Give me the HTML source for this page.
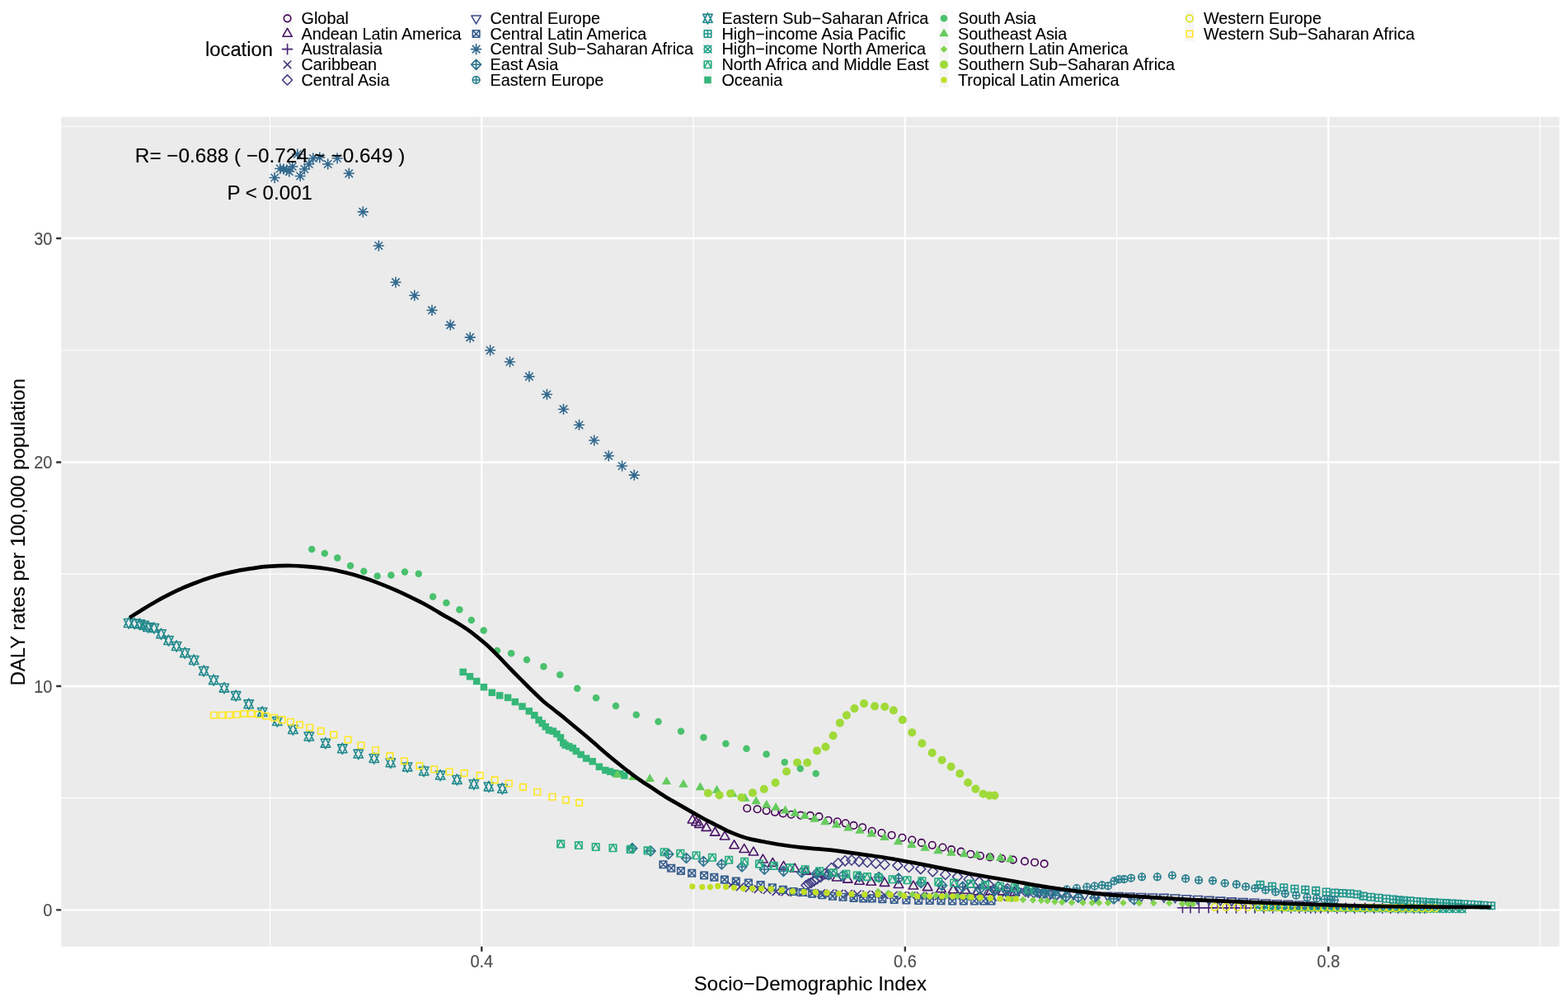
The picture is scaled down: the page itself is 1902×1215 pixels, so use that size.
<!DOCTYPE html>
<html lang="en">
<head>
<meta charset="utf-8">
<title>DALY rates per 100,000 population vs Socio-Demographic Index</title>
<style>
html,body{margin:0;padding:0;background:#fff;}
body{width:1902px;height:1215px;overflow:hidden;font-family:"Liberation Sans",Arial,Helvetica,sans-serif;}
svg{display:block;}
svg text{font-family:"Liberation Sans",Arial,Helvetica,sans-serif;}
.tick{font-size:20px;fill:#4D4D4D;stroke:#4D4D4D;stroke-width:0.12px;}
.lab{font-size:19.85px;fill:#000;stroke:#000;stroke-width:0.12px;}
.ttl{font-size:24px;fill:#000;stroke:#000;stroke-width:0.12px;}
</style>
</head>
<body>
<svg width="1902" height="1215" viewBox="0 0 1902 1215">
<rect x="0" y="0" width="1902" height="1215" fill="#FFFFFF"/>
<g id="panel">
<rect x="74.2" y="141.8" width="1817.3" height="1006" fill="#EBEBEB"/>
<path d="M327.52 141.8V1147.8M841.07 141.8V1147.8M1354.62 141.8V1147.8M1868.17 141.8V1147.8M74.2 967.67H1891.5M74.2 696.2H1891.5M74.2 424.73H1891.5M74.2 153.25H1891.5" stroke="#FFFFFF" stroke-width="1.2" fill="none"/>
<path d="M584.3 141.8V1147.8M1097.85 141.8V1147.8M1611.4 141.8V1147.8M74.2 1103.4H1891.5M74.2 831.93H1891.5M74.2 560.46H1891.5M74.2 288.99H1891.5" stroke="#FFFFFF" stroke-width="2.4" fill="none"/>
</g>
<g id="points" stroke-linecap="round" stroke-linejoin="round">
<g id="s1"><circle cx="906.2" cy="980.2" r="4.26" fill="none" stroke="#440154" stroke-width="1.6"/><circle cx="918.6" cy="981.2" r="4.26" fill="none" stroke="#440154" stroke-width="1.6"/><circle cx="929.6" cy="983.1" r="4.26" fill="none" stroke="#440154" stroke-width="1.6"/><circle cx="940" cy="984.8" r="4.26" fill="none" stroke="#440154" stroke-width="1.6"/><circle cx="949.8" cy="986.4" r="4.26" fill="none" stroke="#440154" stroke-width="1.6"/><circle cx="959.7" cy="987.7" r="4.26" fill="none" stroke="#440154" stroke-width="1.6"/><circle cx="971.2" cy="988.6" r="4.26" fill="none" stroke="#440154" stroke-width="1.6"/><circle cx="982.8" cy="988.9" r="4.26" fill="none" stroke="#440154" stroke-width="1.6"/><circle cx="993.5" cy="990.1" r="4.26" fill="none" stroke="#440154" stroke-width="1.6"/><circle cx="1004.7" cy="994.7" r="4.26" fill="none" stroke="#440154" stroke-width="1.6"/><circle cx="1015.7" cy="996.3" r="4.26" fill="none" stroke="#440154" stroke-width="1.6"/><circle cx="1025.6" cy="998.3" r="4.26" fill="none" stroke="#440154" stroke-width="1.6"/><circle cx="1035.5" cy="1000.9" r="4.26" fill="none" stroke="#440154" stroke-width="1.6"/><circle cx="1046.2" cy="1003.2" r="4.26" fill="none" stroke="#440154" stroke-width="1.6"/><circle cx="1057.7" cy="1007.8" r="4.26" fill="none" stroke="#440154" stroke-width="1.6"/><circle cx="1069.4" cy="1010" r="4.26" fill="none" stroke="#440154" stroke-width="1.6"/><circle cx="1081.6" cy="1012.7" r="4.26" fill="none" stroke="#440154" stroke-width="1.6"/><circle cx="1094.4" cy="1015.7" r="4.26" fill="none" stroke="#440154" stroke-width="1.6"/><circle cx="1106.3" cy="1018.5" r="4.26" fill="none" stroke="#440154" stroke-width="1.6"/><circle cx="1117.8" cy="1021.9" r="4.26" fill="none" stroke="#440154" stroke-width="1.6"/><circle cx="1130.8" cy="1024.8" r="4.26" fill="none" stroke="#440154" stroke-width="1.6"/><circle cx="1143.5" cy="1027.5" r="4.26" fill="none" stroke="#440154" stroke-width="1.6"/><circle cx="1154.1" cy="1030.1" r="4.26" fill="none" stroke="#440154" stroke-width="1.6"/><circle cx="1165.7" cy="1032.6" r="4.26" fill="none" stroke="#440154" stroke-width="1.6"/><circle cx="1177.4" cy="1035.7" r="4.26" fill="none" stroke="#440154" stroke-width="1.6"/><circle cx="1189" cy="1037.8" r="4.26" fill="none" stroke="#440154" stroke-width="1.6"/><circle cx="1200.9" cy="1039.4" r="4.26" fill="none" stroke="#440154" stroke-width="1.6"/><circle cx="1215.1" cy="1041" r="4.26" fill="none" stroke="#440154" stroke-width="1.6"/><circle cx="1228.8" cy="1042.6" r="4.26" fill="none" stroke="#440154" stroke-width="1.6"/><circle cx="1243" cy="1044.4" r="4.26" fill="none" stroke="#440154" stroke-width="1.6"/><circle cx="1255.1" cy="1045.7" r="4.26" fill="none" stroke="#440154" stroke-width="1.6"/><circle cx="1266.7" cy="1047.4" r="4.26" fill="none" stroke="#440154" stroke-width="1.6"/></g>
<g id="s2"><path d="M840 988.04L845.73 997.97L834.27 997.97Z" fill="none" stroke="#471365" stroke-width="1.6"/><path d="M844.5 990.84L850.23 1000.77L838.77 1000.77Z" fill="none" stroke="#471365" stroke-width="1.6"/><path d="M848.3 993.44L854.03 1003.37L842.57 1003.37Z" fill="none" stroke="#471365" stroke-width="1.6"/><path d="M856.8 997.44L862.53 1007.37L851.07 1007.37Z" fill="none" stroke="#471365" stroke-width="1.6"/><path d="M867.3 1003.24L873.03 1013.17L861.57 1013.17Z" fill="none" stroke="#471365" stroke-width="1.6"/><path d="M879.1 1008.04L884.83 1017.97L873.37 1017.97Z" fill="none" stroke="#471365" stroke-width="1.6"/><path d="M890.6 1018.84L896.33 1028.77L884.87 1028.77Z" fill="none" stroke="#471365" stroke-width="1.6"/><path d="M902.7 1023.54L908.43 1033.47L896.97 1033.47Z" fill="none" stroke="#471365" stroke-width="1.6"/><path d="M914 1027.04L919.73 1036.97L908.27 1036.97Z" fill="none" stroke="#471365" stroke-width="1.6"/><path d="M925.4 1036.04L931.13 1045.97L919.67 1045.97Z" fill="none" stroke="#471365" stroke-width="1.6"/><path d="M937.3 1040.44L943.03 1050.37L931.57 1050.37Z" fill="none" stroke="#471365" stroke-width="1.6"/><path d="M950.5 1044.44L956.23 1054.37L944.77 1054.37Z" fill="none" stroke="#471365" stroke-width="1.6"/><path d="M964.1 1047.14L969.83 1057.07L958.37 1057.07Z" fill="none" stroke="#471365" stroke-width="1.6"/><path d="M977.8 1050.24L983.53 1060.17L972.07 1060.17Z" fill="none" stroke="#471365" stroke-width="1.6"/><path d="M991.5 1053.44L997.23 1063.37L985.77 1063.37Z" fill="none" stroke="#471365" stroke-width="1.6"/><path d="M1002.5 1055.54L1008.23 1065.47L996.77 1065.47Z" fill="none" stroke="#471365" stroke-width="1.6"/><path d="M1015.1 1058.14L1020.83 1068.07L1009.37 1068.07Z" fill="none" stroke="#471365" stroke-width="1.6"/><path d="M1028.3 1060.24L1034.03 1070.17L1022.57 1070.17Z" fill="none" stroke="#471365" stroke-width="1.6"/><path d="M1042.5 1062.34L1048.23 1072.27L1036.77 1072.27Z" fill="none" stroke="#471365" stroke-width="1.6"/><path d="M1056.7 1063.34L1062.43 1073.27L1050.97 1073.27Z" fill="none" stroke="#471365" stroke-width="1.6"/><path d="M1073 1064.44L1078.73 1074.37L1067.27 1074.37Z" fill="none" stroke="#471365" stroke-width="1.6"/><path d="M1090 1066.54L1095.73 1076.47L1084.27 1076.47Z" fill="none" stroke="#471365" stroke-width="1.6"/><path d="M1107.9 1068.14L1113.63 1078.07L1102.17 1078.07Z" fill="none" stroke="#471365" stroke-width="1.6"/><path d="M1125.2 1069.74L1130.93 1079.67L1119.47 1079.67Z" fill="none" stroke="#471365" stroke-width="1.6"/><path d="M1141.5 1071.84L1147.23 1081.77L1135.77 1081.77Z" fill="none" stroke="#471365" stroke-width="1.6"/><path d="M1156.2 1072.84L1161.93 1082.77L1150.47 1082.77Z" fill="none" stroke="#471365" stroke-width="1.6"/><path d="M1170.9 1073.34L1176.63 1083.27L1165.17 1083.27Z" fill="none" stroke="#471365" stroke-width="1.6"/><path d="M1185.7 1074.94L1191.43 1084.87L1179.97 1084.87Z" fill="none" stroke="#471365" stroke-width="1.6"/><path d="M1201.4 1074.94L1207.13 1084.87L1195.67 1084.87Z" fill="none" stroke="#471365" stroke-width="1.6"/><path d="M1216.2 1074.94L1221.93 1084.87L1210.47 1084.87Z" fill="none" stroke="#471365" stroke-width="1.6"/><path d="M1230.9 1076.04L1236.63 1085.97L1225.17 1085.97Z" fill="none" stroke="#471365" stroke-width="1.6"/></g>
<g id="s3"><path d="M1428.48 1100.8L1440.52 1100.8M1434.5 1094.78L1434.5 1106.82" fill="none" stroke="#482374" stroke-width="1.6"/><path d="M1437.98 1100.82L1450.02 1100.82M1444 1094.8L1444 1106.84" fill="none" stroke="#482374" stroke-width="1.6"/><path d="M1448.38 1100.83L1460.42 1100.83M1454.4 1094.81L1454.4 1106.85" fill="none" stroke="#482374" stroke-width="1.6"/><path d="M1460.08 1100.85L1472.12 1100.85M1466.1 1094.83L1466.1 1106.87" fill="none" stroke="#482374" stroke-width="1.6"/><path d="M1470.78 1100.87L1482.82 1100.87M1476.8 1094.85L1476.8 1106.89" fill="none" stroke="#482374" stroke-width="1.6"/><path d="M1481.78 1100.89L1493.82 1100.89M1487.8 1094.87L1487.8 1106.91" fill="none" stroke="#482374" stroke-width="1.6"/><path d="M1493.48 1100.91L1505.52 1100.91M1499.5 1094.89L1499.5 1106.93" fill="none" stroke="#482374" stroke-width="1.6"/><path d="M1505.18 1100.93L1517.22 1100.93M1511.2 1094.91L1511.2 1106.95" fill="none" stroke="#482374" stroke-width="1.6"/><path d="M1516.18 1100.95L1528.22 1100.95M1522.2 1094.93L1522.2 1106.97" fill="none" stroke="#482374" stroke-width="1.6"/><path d="M1526.98 1100.97L1539.02 1100.97M1533 1094.95L1533 1106.99" fill="none" stroke="#482374" stroke-width="1.6"/><path d="M1537.98 1100.99L1550.02 1100.99M1544 1094.97L1544 1107.01" fill="none" stroke="#482374" stroke-width="1.6"/><path d="M1548.98 1101.01L1561.02 1101.01M1555 1094.99L1555 1107.02" fill="none" stroke="#482374" stroke-width="1.6"/><path d="M1559.98 1101.02L1572.02 1101.02M1566 1095L1566 1107.04" fill="none" stroke="#482374" stroke-width="1.6"/><path d="M1569.98 1101.04L1582.02 1101.04M1576 1095.02L1576 1107.06" fill="none" stroke="#482374" stroke-width="1.6"/><path d="M1577.48 1101.05L1589.52 1101.05M1583.5 1095.03L1583.5 1107.07" fill="none" stroke="#482374" stroke-width="1.6"/><path d="M1583.88 1101.06L1595.92 1101.06M1589.9 1095.05L1589.9 1107.08" fill="none" stroke="#482374" stroke-width="1.6"/><path d="M1589.58 1101.07L1601.62 1101.07M1595.6 1095.05L1595.6 1107.09" fill="none" stroke="#482374" stroke-width="1.6"/><path d="M1595.98 1101.09L1608.02 1101.09M1602 1095.07L1602 1107.1" fill="none" stroke="#482374" stroke-width="1.6"/><path d="M1604.88 1101.1L1616.92 1101.1M1610.9 1095.08L1610.9 1107.12" fill="none" stroke="#482374" stroke-width="1.6"/><path d="M1615.88 1101.12L1627.92 1101.12M1621.9 1095.1L1621.9 1107.14" fill="none" stroke="#482374" stroke-width="1.6"/><path d="M1626.38 1101.14L1638.42 1101.14M1632.4 1095.12L1632.4 1107.16" fill="none" stroke="#482374" stroke-width="1.6"/><path d="M1637.18 1101.16L1649.22 1101.16M1643.2 1095.14L1643.2 1107.17" fill="none" stroke="#482374" stroke-width="1.6"/><path d="M1649.78 1101.18L1661.82 1101.18M1655.8 1095.16L1655.8 1107.2" fill="none" stroke="#482374" stroke-width="1.6"/><path d="M1660.78 1101.2L1672.82 1101.2M1666.8 1095.18L1666.8 1107.21" fill="none" stroke="#482374" stroke-width="1.6"/><path d="M1670.78 1101.21L1682.82 1101.21M1676.8 1095.19L1676.8 1107.23" fill="none" stroke="#482374" stroke-width="1.6"/><path d="M1680.78 1101.23L1692.82 1101.23M1686.8 1095.21L1686.8 1107.25" fill="none" stroke="#482374" stroke-width="1.6"/><path d="M1689.68 1101.24L1701.72 1101.24M1695.7 1095.23L1695.7 1107.26" fill="none" stroke="#482374" stroke-width="1.6"/><path d="M1699.18 1101.26L1711.22 1101.26M1705.2 1095.24L1705.2 1107.28" fill="none" stroke="#482374" stroke-width="1.6"/><path d="M1709.18 1101.28L1721.22 1101.28M1715.2 1095.26L1715.2 1107.3" fill="none" stroke="#482374" stroke-width="1.6"/><path d="M1716.48 1101.29L1728.52 1101.29M1722.5 1095.27L1722.5 1107.31" fill="none" stroke="#482374" stroke-width="1.6"/><path d="M1722.28 1101.3L1734.32 1101.3M1728.3 1095.28L1728.3 1107.32" fill="none" stroke="#482374" stroke-width="1.6"/></g>
<g id="s4"><path d="M882.54 1068.84L891.06 1077.36M882.54 1077.36L891.06 1068.84" fill="none" stroke="#46327E" stroke-width="1.6"/><path d="M893.49 1071.07L902 1079.58M893.49 1079.58L902 1071.07" fill="none" stroke="#46327E" stroke-width="1.6"/><path d="M904.43 1072.7L912.94 1081.21M904.43 1081.21L912.94 1072.7" fill="none" stroke="#46327E" stroke-width="1.6"/><path d="M915.37 1073.85L923.88 1082.36M915.37 1082.36L923.88 1073.85" fill="none" stroke="#46327E" stroke-width="1.6"/><path d="M926.31 1074.95L934.82 1083.46M926.31 1083.46L934.82 1074.95" fill="none" stroke="#46327E" stroke-width="1.6"/><path d="M937.25 1076.8L945.77 1085.31M937.25 1085.31L945.77 1076.8" fill="none" stroke="#46327E" stroke-width="1.6"/><path d="M948.2 1077.36L956.71 1085.87M948.2 1085.87L956.71 1077.36" fill="none" stroke="#46327E" stroke-width="1.6"/><path d="M959.14 1077.84L967.65 1086.35M959.14 1086.35L967.65 1077.84" fill="none" stroke="#46327E" stroke-width="1.6"/><path d="M970.08 1078.14L978.59 1086.65M970.08 1086.65L978.59 1078.14" fill="none" stroke="#46327E" stroke-width="1.6"/><path d="M981.02 1078.44L989.53 1086.95M981.02 1086.95L989.53 1078.44" fill="none" stroke="#46327E" stroke-width="1.6"/><path d="M991.96 1078.74L1000.48 1087.25M991.96 1087.25L1000.48 1078.74" fill="none" stroke="#46327E" stroke-width="1.6"/><path d="M1002.91 1079.04L1011.42 1087.55M1002.91 1087.55L1011.42 1079.04" fill="none" stroke="#46327E" stroke-width="1.6"/><path d="M1013.85 1079.34L1022.36 1087.85M1013.85 1087.85L1022.36 1079.34" fill="none" stroke="#46327E" stroke-width="1.6"/><path d="M1024.79 1079.64L1033.3 1088.15M1024.79 1088.15L1033.3 1079.64" fill="none" stroke="#46327E" stroke-width="1.6"/><path d="M1035.73 1079.95L1044.24 1088.46M1035.73 1088.46L1044.24 1079.95" fill="none" stroke="#46327E" stroke-width="1.6"/><path d="M1046.67 1080.28L1055.19 1088.79M1046.67 1088.79L1055.19 1080.28" fill="none" stroke="#46327E" stroke-width="1.6"/><path d="M1057.61 1080.61L1066.13 1089.12M1057.61 1089.12L1066.13 1080.61" fill="none" stroke="#46327E" stroke-width="1.6"/><path d="M1068.56 1080.93L1077.07 1089.44M1068.56 1089.44L1077.07 1080.93" fill="none" stroke="#46327E" stroke-width="1.6"/><path d="M1079.5 1081.26L1088.01 1089.77M1079.5 1089.77L1088.01 1081.26" fill="none" stroke="#46327E" stroke-width="1.6"/><path d="M1090.44 1081.59L1098.95 1090.1M1090.44 1090.1L1098.95 1081.59" fill="none" stroke="#46327E" stroke-width="1.6"/><path d="M1101.38 1081.84L1109.89 1090.35M1101.38 1090.35L1109.89 1081.84" fill="none" stroke="#46327E" stroke-width="1.6"/><path d="M1112.32 1082.02L1120.84 1090.53M1112.32 1090.53L1120.84 1082.02" fill="none" stroke="#46327E" stroke-width="1.6"/><path d="M1123.27 1082.2L1131.78 1090.71M1123.27 1090.71L1131.78 1082.2" fill="none" stroke="#46327E" stroke-width="1.6"/><path d="M1134.21 1082.38L1142.72 1090.9M1134.21 1090.9L1142.72 1082.38" fill="none" stroke="#46327E" stroke-width="1.6"/><path d="M1145.15 1082.57L1153.66 1091.08M1145.15 1091.08L1153.66 1082.57" fill="none" stroke="#46327E" stroke-width="1.6"/><path d="M1156.09 1082.75L1164.6 1091.26M1156.09 1091.26L1164.6 1082.75" fill="none" stroke="#46327E" stroke-width="1.6"/><path d="M1167.03 1082.91L1175.55 1091.43M1167.03 1091.43L1175.55 1082.91" fill="none" stroke="#46327E" stroke-width="1.6"/><path d="M1177.98 1083.08L1186.49 1091.59M1177.98 1091.59L1186.49 1083.08" fill="none" stroke="#46327E" stroke-width="1.6"/><path d="M1188.92 1083.25L1197.43 1091.76M1188.92 1091.76L1197.43 1083.25" fill="none" stroke="#46327E" stroke-width="1.6"/><path d="M1199.86 1083.41L1208.37 1091.92M1199.86 1091.92L1208.37 1083.41" fill="none" stroke="#46327E" stroke-width="1.6"/><path d="M1210.8 1083.58L1219.31 1092.09M1210.8 1092.09L1219.31 1083.58" fill="none" stroke="#46327E" stroke-width="1.6"/><path d="M1221.74 1083.74L1230.26 1092.26M1221.74 1092.26L1230.26 1083.74" fill="none" stroke="#46327E" stroke-width="1.6"/></g>
<g id="s5"><path d="M971.88 1073.5L977.9 1067.48L983.92 1073.5L977.9 1079.52Z" fill="none" stroke="#424086" stroke-width="1.6"/><path d="M974.98 1071.5L981 1065.48L987.02 1071.5L981 1077.52Z" fill="none" stroke="#424086" stroke-width="1.6"/><path d="M977.98 1070.3L984 1064.28L990.02 1070.3L984 1076.32Z" fill="none" stroke="#424086" stroke-width="1.6"/><path d="M981.28 1068.3L987.3 1062.28L993.32 1068.3L987.3 1074.32Z" fill="none" stroke="#424086" stroke-width="1.6"/><path d="M984.98 1066L991 1059.98L997.02 1066L991 1072.02Z" fill="none" stroke="#424086" stroke-width="1.6"/><path d="M989.48 1063.5L995.5 1057.48L1001.52 1063.5L995.5 1069.52Z" fill="none" stroke="#424086" stroke-width="1.6"/><path d="M994.98 1059.4L1001 1053.38L1007.02 1059.4L1001 1065.42Z" fill="none" stroke="#424086" stroke-width="1.6"/><path d="M1002.48 1052.5L1008.5 1046.48L1014.52 1052.5L1008.5 1058.52Z" fill="none" stroke="#424086" stroke-width="1.6"/><path d="M1010.78 1046.8L1016.8 1040.78L1022.82 1046.8L1016.8 1052.82Z" fill="none" stroke="#424086" stroke-width="1.6"/><path d="M1019.08 1043.8L1025.1 1037.78L1031.12 1043.8L1025.1 1049.82Z" fill="none" stroke="#424086" stroke-width="1.6"/><path d="M1026.98 1043L1033 1036.98L1039.02 1043L1033 1049.02Z" fill="none" stroke="#424086" stroke-width="1.6"/><path d="M1035.98 1044.6L1042 1038.58L1048.02 1044.6L1042 1050.62Z" fill="none" stroke="#424086" stroke-width="1.6"/><path d="M1045.98 1045.5L1052 1039.48L1058.02 1045.5L1052 1051.52Z" fill="none" stroke="#424086" stroke-width="1.6"/><path d="M1056.38 1046.8L1062.4 1040.78L1068.42 1046.8L1062.4 1052.82Z" fill="none" stroke="#424086" stroke-width="1.6"/><path d="M1066.98 1048.3L1073 1042.28L1079.02 1048.3L1073 1054.32Z" fill="none" stroke="#424086" stroke-width="1.6"/><path d="M1082.88 1049.4L1088.9 1043.38L1094.92 1049.4L1088.9 1055.42Z" fill="none" stroke="#424086" stroke-width="1.6"/><path d="M1096.58 1051.5L1102.6 1045.48L1108.62 1051.5L1102.6 1057.52Z" fill="none" stroke="#424086" stroke-width="1.6"/><path d="M1110.78 1053.6L1116.8 1047.58L1122.82 1053.6L1116.8 1059.62Z" fill="none" stroke="#424086" stroke-width="1.6"/><path d="M1125.48 1056.8L1131.5 1050.78L1137.52 1056.8L1131.5 1062.82Z" fill="none" stroke="#424086" stroke-width="1.6"/><path d="M1140.78 1060.5L1146.8 1054.48L1152.82 1060.5L1146.8 1066.52Z" fill="none" stroke="#424086" stroke-width="1.6"/><path d="M1155.48 1063.1L1161.5 1057.08L1167.52 1063.1L1161.5 1069.12Z" fill="none" stroke="#424086" stroke-width="1.6"/><path d="M1169.18 1066.2L1175.2 1060.18L1181.22 1066.2L1175.2 1072.22Z" fill="none" stroke="#424086" stroke-width="1.6"/><path d="M1181.78 1069.4L1187.8 1063.38L1193.82 1069.4L1187.8 1075.42Z" fill="none" stroke="#424086" stroke-width="1.6"/><path d="M1193.28 1072.6L1199.3 1066.58L1205.32 1072.6L1199.3 1078.62Z" fill="none" stroke="#424086" stroke-width="1.6"/><path d="M1204.88 1075.2L1210.9 1069.18L1216.92 1075.2L1210.9 1081.22Z" fill="none" stroke="#424086" stroke-width="1.6"/><path d="M1215.98 1077.5L1222 1071.48L1228.02 1077.5L1222 1083.52Z" fill="none" stroke="#424086" stroke-width="1.6"/><path d="M1226.98 1079.5L1233 1073.48L1239.02 1079.5L1233 1085.52Z" fill="none" stroke="#424086" stroke-width="1.6"/><path d="M1237.98 1081L1244 1074.98L1250.02 1081L1244 1087.02Z" fill="none" stroke="#424086" stroke-width="1.6"/><path d="M1247.98 1082.5L1254 1076.48L1260.02 1082.5L1254 1088.52Z" fill="none" stroke="#424086" stroke-width="1.6"/><path d="M1257.98 1084L1264 1077.98L1270.02 1084L1264 1090.02Z" fill="none" stroke="#424086" stroke-width="1.6"/><path d="M1266.98 1085L1273 1078.98L1279.02 1085L1273 1091.02Z" fill="none" stroke="#424086" stroke-width="1.6"/><path d="M1274.98 1086L1281 1079.98L1287.02 1086L1281 1092.02Z" fill="none" stroke="#424086" stroke-width="1.6"/></g>
<g id="s6"><path d="M1165 1085.62L1170.73 1075.69L1159.27 1075.69Z" fill="none" stroke="#3D4E8A" stroke-width="1.6"/><path d="M1178.71 1085.94L1184.44 1076.01L1172.98 1076.01Z" fill="none" stroke="#3D4E8A" stroke-width="1.6"/><path d="M1192.42 1086.26L1198.15 1076.33L1186.69 1076.33Z" fill="none" stroke="#3D4E8A" stroke-width="1.6"/><path d="M1206.13 1086.58L1211.86 1076.65L1200.4 1076.65Z" fill="none" stroke="#3D4E8A" stroke-width="1.6"/><path d="M1219.84 1086.9L1225.57 1076.98L1214.11 1076.98Z" fill="none" stroke="#3D4E8A" stroke-width="1.6"/><path d="M1233.55 1087.39L1239.28 1077.46L1227.82 1077.46Z" fill="none" stroke="#3D4E8A" stroke-width="1.6"/><path d="M1247.26 1088.19L1252.99 1078.26L1241.53 1078.26Z" fill="none" stroke="#3D4E8A" stroke-width="1.6"/><path d="M1260.97 1089L1266.7 1079.07L1255.24 1079.07Z" fill="none" stroke="#3D4E8A" stroke-width="1.6"/><path d="M1274.68 1089.81L1280.41 1079.88L1268.95 1079.88Z" fill="none" stroke="#3D4E8A" stroke-width="1.6"/><path d="M1288.39 1090.45L1294.12 1080.52L1282.65 1080.52Z" fill="none" stroke="#3D4E8A" stroke-width="1.6"/><path d="M1302.1 1090.99L1307.83 1081.06L1296.36 1081.06Z" fill="none" stroke="#3D4E8A" stroke-width="1.6"/><path d="M1315.81 1091.53L1321.54 1081.6L1310.07 1081.6Z" fill="none" stroke="#3D4E8A" stroke-width="1.6"/><path d="M1329.52 1091.87L1335.25 1081.94L1323.78 1081.94Z" fill="none" stroke="#3D4E8A" stroke-width="1.6"/><path d="M1343.23 1092.17L1348.96 1082.24L1337.49 1082.24Z" fill="none" stroke="#3D4E8A" stroke-width="1.6"/><path d="M1356.94 1092.5L1362.67 1082.57L1351.2 1082.57Z" fill="none" stroke="#3D4E8A" stroke-width="1.6"/><path d="M1370.65 1092.95L1376.38 1083.02L1364.91 1083.02Z" fill="none" stroke="#3D4E8A" stroke-width="1.6"/><path d="M1384.35 1093.41L1390.09 1083.48L1378.62 1083.48Z" fill="none" stroke="#3D4E8A" stroke-width="1.6"/><path d="M1398.06 1093.87L1403.8 1083.94L1392.33 1083.94Z" fill="none" stroke="#3D4E8A" stroke-width="1.6"/><path d="M1411.77 1094.32L1417.51 1084.39L1406.04 1084.39Z" fill="none" stroke="#3D4E8A" stroke-width="1.6"/><path d="M1425.48 1094.96L1431.22 1085.03L1419.75 1085.03Z" fill="none" stroke="#3D4E8A" stroke-width="1.6"/><path d="M1439.19 1095.72L1444.93 1085.8L1433.46 1085.8Z" fill="none" stroke="#3D4E8A" stroke-width="1.6"/><path d="M1452.9 1096.49L1458.64 1086.56L1447.17 1086.56Z" fill="none" stroke="#3D4E8A" stroke-width="1.6"/><path d="M1466.61 1097.26L1472.35 1087.33L1460.88 1087.33Z" fill="none" stroke="#3D4E8A" stroke-width="1.6"/><path d="M1480.32 1098.01L1486.05 1088.09L1474.59 1088.09Z" fill="none" stroke="#3D4E8A" stroke-width="1.6"/><path d="M1494.03 1098.77L1499.76 1088.84L1488.3 1088.84Z" fill="none" stroke="#3D4E8A" stroke-width="1.6"/><path d="M1507.74 1099.53L1513.47 1089.6L1502.01 1089.6Z" fill="none" stroke="#3D4E8A" stroke-width="1.6"/><path d="M1521.45 1100.24L1527.18 1090.31L1515.72 1090.31Z" fill="none" stroke="#3D4E8A" stroke-width="1.6"/><path d="M1535.16 1100.93L1540.89 1091L1529.43 1091Z" fill="none" stroke="#3D4E8A" stroke-width="1.6"/><path d="M1548.87 1101.61L1554.6 1091.68L1543.14 1091.68Z" fill="none" stroke="#3D4E8A" stroke-width="1.6"/><path d="M1562.58 1102.29L1568.31 1092.36L1556.85 1092.36Z" fill="none" stroke="#3D4E8A" stroke-width="1.6"/><path d="M1576.29 1102.95L1582.02 1093.02L1570.56 1093.02Z" fill="none" stroke="#3D4E8A" stroke-width="1.6"/><path d="M1590 1103.62L1595.73 1093.69L1584.27 1093.69Z" fill="none" stroke="#3D4E8A" stroke-width="1.6"/></g>
<g id="s7"><path d="M800.24 1044.04L808.76 1044.04L808.76 1052.56L800.24 1052.56ZM800.24 1044.04L808.76 1052.56M800.24 1052.56L808.76 1044.04" fill="none" stroke="#365C8D" stroke-width="1.6"/><path d="M809.94 1048.44L818.46 1048.44L818.46 1056.96L809.94 1056.96ZM809.94 1048.44L818.46 1056.96M809.94 1056.96L818.46 1048.44" fill="none" stroke="#365C8D" stroke-width="1.6"/><path d="M821.64 1051.74L830.16 1051.74L830.16 1060.26L821.64 1060.26ZM821.64 1051.74L830.16 1060.26M821.64 1060.26L830.16 1051.74" fill="none" stroke="#365C8D" stroke-width="1.6"/><path d="M834.94 1054.54L843.46 1054.54L843.46 1063.06L834.94 1063.06ZM834.94 1054.54L843.46 1063.06M834.94 1063.06L843.46 1054.54" fill="none" stroke="#365C8D" stroke-width="1.6"/><path d="M849.84 1057.24L858.36 1057.24L858.36 1065.76L849.84 1065.76ZM849.84 1057.24L858.36 1065.76M849.84 1065.76L858.36 1057.24" fill="none" stroke="#365C8D" stroke-width="1.6"/><path d="M862.04 1059.54L870.56 1059.54L870.56 1068.06L862.04 1068.06ZM862.04 1059.54L870.56 1068.06M862.04 1068.06L870.56 1059.54" fill="none" stroke="#365C8D" stroke-width="1.6"/><path d="M874.64 1062.34L883.16 1062.34L883.16 1070.86L874.64 1070.86ZM874.64 1062.34L883.16 1070.86M874.64 1070.86L883.16 1062.34" fill="none" stroke="#365C8D" stroke-width="1.6"/><path d="M888.54 1064.34L897.06 1064.34L897.06 1072.86L888.54 1072.86ZM888.54 1064.34L897.06 1072.86M888.54 1072.86L897.06 1064.34" fill="none" stroke="#365C8D" stroke-width="1.6"/><path d="M903.64 1066.24L912.16 1066.24L912.16 1074.76L903.64 1074.76ZM903.64 1066.24L912.16 1074.76M903.64 1074.76L912.16 1066.24" fill="none" stroke="#365C8D" stroke-width="1.6"/><path d="M918.34 1068.84L926.86 1068.84L926.86 1077.36L918.34 1077.36ZM918.34 1068.84L926.86 1077.36M918.34 1077.36L926.86 1068.84" fill="none" stroke="#365C8D" stroke-width="1.6"/><path d="M932.54 1071.94L941.06 1071.94L941.06 1080.46L932.54 1080.46ZM932.54 1071.94L941.06 1080.46M932.54 1080.46L941.06 1071.94" fill="none" stroke="#365C8D" stroke-width="1.6"/><path d="M945.64 1074.64L954.16 1074.64L954.16 1083.16L945.64 1083.16ZM945.64 1074.64L954.16 1083.16M945.64 1083.16L954.16 1074.64" fill="none" stroke="#365C8D" stroke-width="1.6"/><path d="M958.24 1076.74L966.76 1076.74L966.76 1085.26L958.24 1085.26ZM958.24 1076.74L966.76 1085.26M958.24 1085.26L966.76 1076.74" fill="none" stroke="#365C8D" stroke-width="1.6"/><path d="M969.34 1077.74L977.86 1077.74L977.86 1086.26L969.34 1086.26ZM969.34 1077.74L977.86 1086.26M969.34 1086.26L977.86 1077.74" fill="none" stroke="#365C8D" stroke-width="1.6"/><path d="M980.94 1079.34L989.46 1079.34L989.46 1087.86L980.94 1087.86ZM980.94 1079.34L989.46 1087.86M980.94 1087.86L989.46 1079.34" fill="none" stroke="#365C8D" stroke-width="1.6"/><path d="M992.94 1080.94L1001.46 1080.94L1001.46 1089.46L992.94 1089.46ZM992.94 1080.94L1001.46 1089.46M992.94 1089.46L1001.46 1080.94" fill="none" stroke="#365C8D" stroke-width="1.6"/><path d="M1005.64 1082.54L1014.16 1082.54L1014.16 1091.06L1005.64 1091.06ZM1005.64 1082.54L1014.16 1091.06M1005.64 1091.06L1014.16 1082.54" fill="none" stroke="#365C8D" stroke-width="1.6"/><path d="M1018.24 1083.54L1026.76 1083.54L1026.76 1092.06L1018.24 1092.06ZM1018.24 1083.54L1026.76 1092.06M1018.24 1092.06L1026.76 1083.54" fill="none" stroke="#365C8D" stroke-width="1.6"/><path d="M1031.34 1084.64L1039.86 1084.64L1039.86 1093.16L1031.34 1093.16ZM1031.34 1084.64L1039.86 1093.16M1031.34 1093.16L1039.86 1084.64" fill="none" stroke="#365C8D" stroke-width="1.6"/><path d="M1042.94 1085.14L1051.46 1085.14L1051.46 1093.66L1042.94 1093.66ZM1042.94 1085.14L1051.46 1093.66M1042.94 1093.66L1051.46 1085.14" fill="none" stroke="#365C8D" stroke-width="1.6"/><path d="M1053.44 1085.14L1061.96 1085.14L1061.96 1093.66L1053.44 1093.66ZM1053.44 1085.14L1061.96 1093.66M1053.44 1093.66L1061.96 1085.14" fill="none" stroke="#365C8D" stroke-width="1.6"/><path d="M1066.04 1085.84L1074.56 1085.84L1074.56 1094.36L1066.04 1094.36ZM1066.04 1085.84L1074.56 1094.36M1066.04 1094.36L1074.56 1085.84" fill="none" stroke="#365C8D" stroke-width="1.6"/><path d="M1080.44 1086.74L1088.96 1086.74L1088.96 1095.26L1080.44 1095.26ZM1080.44 1086.74L1088.96 1095.26M1080.44 1095.26L1088.96 1086.74" fill="none" stroke="#365C8D" stroke-width="1.6"/><path d="M1095.14 1087.24L1103.66 1087.24L1103.66 1095.76L1095.14 1095.76ZM1095.14 1087.24L1103.66 1095.76M1095.14 1095.76L1103.66 1087.24" fill="none" stroke="#365C8D" stroke-width="1.6"/><path d="M1109.94 1087.74L1118.46 1087.74L1118.46 1096.26L1109.94 1096.26ZM1109.94 1087.74L1118.46 1096.26M1109.94 1096.26L1118.46 1087.74" fill="none" stroke="#365C8D" stroke-width="1.6"/><path d="M1123.54 1087.74L1132.06 1087.74L1132.06 1096.26L1123.54 1096.26ZM1123.54 1087.74L1132.06 1096.26M1123.54 1096.26L1132.06 1087.74" fill="none" stroke="#365C8D" stroke-width="1.6"/><path d="M1137.24 1088.04L1145.76 1088.04L1145.76 1096.56L1137.24 1096.56ZM1137.24 1088.04L1145.76 1096.56M1137.24 1096.56L1145.76 1088.04" fill="none" stroke="#365C8D" stroke-width="1.6"/><path d="M1150.94 1088.24L1159.46 1088.24L1159.46 1096.76L1150.94 1096.76ZM1150.94 1088.24L1159.46 1096.76M1150.94 1096.76L1159.46 1088.24" fill="none" stroke="#365C8D" stroke-width="1.6"/><path d="M1164.54 1088.24L1173.06 1088.24L1173.06 1096.76L1164.54 1096.76ZM1164.54 1088.24L1173.06 1096.76M1164.54 1096.76L1173.06 1088.24" fill="none" stroke="#365C8D" stroke-width="1.6"/><path d="M1177.74 1088.24L1186.26 1088.24L1186.26 1096.76L1177.74 1096.76ZM1177.74 1088.24L1186.26 1096.76M1177.74 1096.76L1186.26 1088.24" fill="none" stroke="#365C8D" stroke-width="1.6"/><path d="M1188.74 1088.24L1197.26 1088.24L1197.26 1096.76L1188.74 1096.76ZM1188.74 1088.24L1197.26 1096.76M1188.74 1096.76L1197.26 1088.24" fill="none" stroke="#365C8D" stroke-width="1.6"/><path d="M1198.24 1088.24L1206.76 1088.24L1206.76 1096.76L1198.24 1096.76ZM1198.24 1088.24L1206.76 1096.76M1198.24 1096.76L1206.76 1088.24" fill="none" stroke="#365C8D" stroke-width="1.6"/></g>
<g id="s8"><path d="M328.94 211.24L337.46 219.76M328.94 219.76L337.46 211.24M327.18 215.5L339.22 215.5M333.2 209.48L333.2 221.52" fill="none" stroke="#31688E" stroke-width="1.6"/><path d="M335.54 200.24L344.06 208.76M335.54 208.76L344.06 200.24M333.78 204.5L345.82 204.5M339.8 198.48L339.8 210.52" fill="none" stroke="#31688E" stroke-width="1.6"/><path d="M339.74 200.74L348.26 209.26M339.74 209.26L348.26 200.74M337.98 205L350.02 205M344 198.98L344 211.02" fill="none" stroke="#31688E" stroke-width="1.6"/><path d="M343.54 201.74L352.06 210.26M343.54 210.26L352.06 201.74M341.78 206L353.82 206M347.8 199.98L347.8 212.02" fill="none" stroke="#31688E" stroke-width="1.6"/><path d="M346.54 203.74L355.06 212.26M346.54 212.26L355.06 203.74M344.78 208L356.82 208M350.8 201.98L350.8 214.02" fill="none" stroke="#31688E" stroke-width="1.6"/><path d="M350.54 197.74L359.06 206.26M350.54 206.26L359.06 197.74M348.78 202L360.82 202M354.8 195.98L354.8 208.02" fill="none" stroke="#31688E" stroke-width="1.6"/><path d="M356.54 182.74L365.06 191.26M356.54 191.26L365.06 182.74M354.78 187L366.82 187M360.8 180.98L360.8 193.02" fill="none" stroke="#31688E" stroke-width="1.6"/><path d="M359.94 209.24L368.46 217.76M359.94 217.76L368.46 209.24M358.18 213.5L370.22 213.5M364.2 207.48L364.2 219.52" fill="none" stroke="#31688E" stroke-width="1.6"/><path d="M365.14 200.74L373.66 209.26M365.14 209.26L373.66 200.74M363.38 205L375.42 205M369.4 198.98L369.4 211.02" fill="none" stroke="#31688E" stroke-width="1.6"/><path d="M370.54 194.74L379.06 203.26M370.54 203.26L379.06 194.74M368.78 199L380.82 199M374.8 192.98L374.8 205.02" fill="none" stroke="#31688E" stroke-width="1.6"/><path d="M375.54 187.74L384.06 196.26M375.54 196.26L384.06 187.74M373.78 192L385.82 192M379.8 185.98L379.8 198.02" fill="none" stroke="#31688E" stroke-width="1.6"/><path d="M383.54 186.74L392.06 195.26M383.54 195.26L392.06 186.74M381.78 191L393.82 191M387.8 184.98L387.8 197.02" fill="none" stroke="#31688E" stroke-width="1.6"/><path d="M393.44 194.74L401.96 203.26M393.44 203.26L401.96 194.74M391.68 199L403.72 199M397.7 192.98L397.7 205.02" fill="none" stroke="#31688E" stroke-width="1.6"/><path d="M404.84 187.74L413.36 196.26M404.84 196.26L413.36 187.74M403.08 192L415.12 192M409.1 185.98L409.1 198.02" fill="none" stroke="#31688E" stroke-width="1.6"/><path d="M419.04 206.04L427.56 214.56M419.04 214.56L427.56 206.04M417.28 210.3L429.32 210.3M423.3 204.28L423.3 216.32" fill="none" stroke="#31688E" stroke-width="1.6"/><path d="M436.04 252.64L444.56 261.16M436.04 261.16L444.56 252.64M434.28 256.9L446.32 256.9M440.3 250.88L440.3 262.92" fill="none" stroke="#31688E" stroke-width="1.6"/><path d="M455.14 293.74L463.66 302.26M455.14 302.26L463.66 293.74M453.38 298L465.42 298M459.4 291.98L459.4 304.02" fill="none" stroke="#31688E" stroke-width="1.6"/><path d="M475.74 337.94L484.26 346.46M475.74 346.46L484.26 337.94M473.98 342.2L486.02 342.2M480 336.18L480 348.22" fill="none" stroke="#31688E" stroke-width="1.6"/><path d="M498.54 354.04L507.06 362.56M498.54 362.56L507.06 354.04M496.78 358.3L508.82 358.3M502.8 352.28L502.8 364.32" fill="none" stroke="#31688E" stroke-width="1.6"/><path d="M519.74 371.94L528.26 380.46M519.74 380.46L528.26 371.94M517.98 376.2L530.02 376.2M524 370.18L524 382.22" fill="none" stroke="#31688E" stroke-width="1.6"/><path d="M542.04 389.84L550.56 398.36M542.04 398.36L550.56 389.84M540.28 394.1L552.32 394.1M546.3 388.08L546.3 400.12" fill="none" stroke="#31688E" stroke-width="1.6"/><path d="M565.94 404.84L574.46 413.36M565.94 413.36L574.46 404.84M564.18 409.1L576.22 409.1M570.2 403.08L570.2 415.12" fill="none" stroke="#31688E" stroke-width="1.6"/><path d="M590.34 420.54L598.86 429.06M590.34 429.06L598.86 420.54M588.58 424.8L600.62 424.8M594.6 418.78L594.6 430.82" fill="none" stroke="#31688E" stroke-width="1.6"/><path d="M614.24 434.44L622.76 442.96M614.24 442.96L622.76 434.44M612.48 438.7L624.52 438.7M618.5 432.68L618.5 444.72" fill="none" stroke="#31688E" stroke-width="1.6"/><path d="M637.64 452.34L646.16 460.86M637.64 460.86L646.16 452.34M635.88 456.6L647.92 456.6M641.9 450.58L641.9 462.62" fill="none" stroke="#31688E" stroke-width="1.6"/><path d="M659.14 474.04L667.66 482.56M659.14 482.56L667.66 474.04M657.38 478.3L669.42 478.3M663.4 472.28L663.4 484.32" fill="none" stroke="#31688E" stroke-width="1.6"/><path d="M679.24 491.94L687.76 500.46M679.24 500.46L687.76 491.94M677.48 496.2L689.52 496.2M683.5 490.18L683.5 502.22" fill="none" stroke="#31688E" stroke-width="1.6"/><path d="M698.24 511.04L706.76 519.56M698.24 519.56L706.76 511.04M696.48 515.3L708.52 515.3M702.5 509.28L702.5 521.32" fill="none" stroke="#31688E" stroke-width="1.6"/><path d="M716.44 529.74L724.96 538.26M716.44 538.26L724.96 529.74M714.68 534L726.72 534M720.7 527.98L720.7 540.02" fill="none" stroke="#31688E" stroke-width="1.6"/><path d="M734.04 548.44L742.56 556.96M734.04 556.96L742.56 548.44M732.28 552.7L744.32 552.7M738.3 546.68L738.3 558.72" fill="none" stroke="#31688E" stroke-width="1.6"/><path d="M750.34 560.74L758.86 569.26M750.34 569.26L758.86 560.74M748.58 565L760.62 565M754.6 558.98L754.6 571.02" fill="none" stroke="#31688E" stroke-width="1.6"/><path d="M765.04 571.84L773.56 580.36M765.04 580.36L773.56 571.84M763.28 576.1L775.32 576.1M769.3 570.08L769.3 582.12" fill="none" stroke="#31688E" stroke-width="1.6"/></g>
<g id="s9"><path d="M760.88 1028.7L766.9 1022.68L772.92 1028.7L766.9 1034.72ZM760.88 1028.7L772.92 1028.7M766.9 1022.68L766.9 1034.72" fill="none" stroke="#2C738E" stroke-width="1.6"/><path d="M783.08 1031.9L789.1 1025.88L795.12 1031.9L789.1 1037.92ZM783.08 1031.9L795.12 1031.9M789.1 1025.88L789.1 1037.92" fill="none" stroke="#2C738E" stroke-width="1.6"/><path d="M804.78 1035.7L810.8 1029.68L816.82 1035.7L810.8 1041.72ZM804.78 1035.7L816.82 1035.7M810.8 1029.68L810.8 1041.72" fill="none" stroke="#2C738E" stroke-width="1.6"/><path d="M826.48 1040.5L832.5 1034.48L838.52 1040.5L832.5 1046.52ZM826.48 1040.5L838.52 1040.5M832.5 1034.48L832.5 1046.52" fill="none" stroke="#2C738E" stroke-width="1.6"/><path d="M847.28 1044.5L853.3 1038.48L859.32 1044.5L853.3 1050.52ZM847.28 1044.5L859.32 1044.5M853.3 1038.48L853.3 1050.52" fill="none" stroke="#2C738E" stroke-width="1.6"/><path d="M869.38 1048L875.4 1041.98L881.42 1048L875.4 1054.02ZM869.38 1048L881.42 1048M875.4 1041.98L875.4 1054.02" fill="none" stroke="#2C738E" stroke-width="1.6"/><path d="M893.98 1051L900 1044.98L906.02 1051L900 1057.02ZM893.98 1051L906.02 1051M900 1044.98L900 1057.02" fill="none" stroke="#2C738E" stroke-width="1.6"/><path d="M921.28 1054.2L927.3 1048.18L933.32 1054.2L927.3 1060.22ZM921.28 1054.2L933.32 1054.2M927.3 1048.18L927.3 1060.22" fill="none" stroke="#2C738E" stroke-width="1.6"/><path d="M944.48 1056.3L950.5 1050.28L956.52 1056.3L950.5 1062.32ZM944.48 1056.3L956.52 1056.3M950.5 1050.28L950.5 1062.32" fill="none" stroke="#2C738E" stroke-width="1.6"/><path d="M966.48 1057.8L972.5 1051.78L978.52 1057.8L972.5 1063.82ZM966.48 1057.8L978.52 1057.8M972.5 1051.78L972.5 1063.82" fill="none" stroke="#2C738E" stroke-width="1.6"/><path d="M984.38 1059.4L990.4 1053.38L996.42 1059.4L990.4 1065.42ZM984.38 1059.4L996.42 1059.4M990.4 1053.38L990.4 1065.42" fill="none" stroke="#2C738E" stroke-width="1.6"/><path d="M999.08 1061L1005.1 1054.98L1011.12 1061L1005.1 1067.02ZM999.08 1061L1011.12 1061M1005.1 1054.98L1005.1 1067.02" fill="none" stroke="#2C738E" stroke-width="1.6"/><path d="M1015.98 1062L1022 1055.98L1028.02 1062L1022 1068.02ZM1015.98 1062L1028.02 1062M1022 1055.98L1022 1068.02" fill="none" stroke="#2C738E" stroke-width="1.6"/><path d="M1036.48 1063.1L1042.5 1057.08L1048.52 1063.1L1042.5 1069.12ZM1036.48 1063.1L1048.52 1063.1M1042.5 1057.08L1042.5 1069.12" fill="none" stroke="#2C738E" stroke-width="1.6"/><path d="M1060.08 1063.6L1066.1 1057.58L1072.12 1063.6L1066.1 1069.62ZM1060.08 1063.6L1072.12 1063.6M1066.1 1057.58L1066.1 1069.62" fill="none" stroke="#2C738E" stroke-width="1.6"/><path d="M1083.98 1065.2L1090 1059.18L1096.02 1065.2L1090 1071.22ZM1083.98 1065.2L1096.02 1065.2M1090 1059.18L1090 1071.22" fill="none" stroke="#2C738E" stroke-width="1.6"/><path d="M1111.28 1070.5L1117.3 1064.48L1123.32 1070.5L1117.3 1076.52ZM1111.28 1070.5L1123.32 1070.5M1117.3 1064.48L1117.3 1076.52" fill="none" stroke="#2C738E" stroke-width="1.6"/><path d="M1136.58 1073.6L1142.6 1067.58L1148.62 1073.6L1142.6 1079.62ZM1136.58 1073.6L1148.62 1073.6M1142.6 1067.58L1142.6 1079.62" fill="none" stroke="#2C738E" stroke-width="1.6"/><path d="M1161.78 1075.2L1167.8 1069.18L1173.82 1075.2L1167.8 1081.22ZM1161.78 1075.2L1173.82 1075.2M1167.8 1069.18L1167.8 1081.22" fill="none" stroke="#2C738E" stroke-width="1.6"/><path d="M1182.78 1077.8L1188.8 1071.78L1194.82 1077.8L1188.8 1083.82ZM1182.78 1077.8L1194.82 1077.8M1188.8 1071.78L1188.8 1083.82" fill="none" stroke="#2C738E" stroke-width="1.6"/><path d="M1200.68 1079.9L1206.7 1073.88L1212.72 1079.9L1206.7 1085.92ZM1200.68 1079.9L1212.72 1079.9M1206.7 1073.88L1206.7 1085.92" fill="none" stroke="#2C738E" stroke-width="1.6"/><path d="M1215.38 1080.3L1221.4 1074.28L1227.42 1080.3L1221.4 1086.32ZM1215.38 1080.3L1227.42 1080.3M1221.4 1074.28L1221.4 1086.32" fill="none" stroke="#2C738E" stroke-width="1.6"/><path d="M1227.98 1080.6L1234 1074.58L1240.02 1080.6L1234 1086.62ZM1227.98 1080.6L1240.02 1080.6M1234 1074.58L1234 1086.62" fill="none" stroke="#2C738E" stroke-width="1.6"/><path d="M1240.68 1081L1246.7 1074.98L1252.72 1081L1246.7 1087.02ZM1240.68 1081L1252.72 1081M1246.7 1074.98L1246.7 1087.02" fill="none" stroke="#2C738E" stroke-width="1.6"/><path d="M1252.18 1082L1258.2 1075.98L1264.22 1082L1258.2 1088.02ZM1252.18 1082L1264.22 1082M1258.2 1075.98L1258.2 1088.02" fill="none" stroke="#2C738E" stroke-width="1.6"/><path d="M1261.68 1083.1L1267.7 1077.08L1273.72 1083.1L1267.7 1089.12ZM1261.68 1083.1L1273.72 1083.1M1267.7 1077.08L1267.7 1089.12" fill="none" stroke="#2C738E" stroke-width="1.6"/><path d="M1273.98 1085.8L1280 1079.78L1286.02 1085.8L1280 1091.82ZM1273.98 1085.8L1286.02 1085.8M1280 1079.78L1280 1091.82" fill="none" stroke="#2C738E" stroke-width="1.6"/><path d="M1286.98 1087.6L1293 1081.58L1299.02 1087.6L1293 1093.62ZM1286.98 1087.6L1299.02 1087.6M1293 1081.58L1293 1093.62" fill="none" stroke="#2C738E" stroke-width="1.6"/><path d="M1301.78 1088.2L1307.8 1082.18L1313.82 1088.2L1307.8 1094.22ZM1301.78 1088.2L1313.82 1088.2M1307.8 1082.18L1307.8 1094.22" fill="none" stroke="#2C738E" stroke-width="1.6"/><path d="M1321.98 1088.6L1328 1082.58L1334.02 1088.6L1328 1094.62ZM1321.98 1088.6L1334.02 1088.6M1328 1082.58L1328 1094.62" fill="none" stroke="#2C738E" stroke-width="1.6"/><path d="M1344.98 1089.9L1351 1083.88L1357.02 1089.9L1351 1095.92ZM1344.98 1089.9L1357.02 1089.9M1351 1083.88L1351 1095.92" fill="none" stroke="#2C738E" stroke-width="1.6"/><path d="M1369.68 1091L1375.7 1084.98L1381.72 1091L1375.7 1097.02ZM1369.68 1091L1381.72 1091M1375.7 1084.98L1375.7 1097.02" fill="none" stroke="#2C738E" stroke-width="1.6"/></g>
<g id="s12"><path d="M1524.44 1068.64L1532.96 1068.64L1532.96 1077.16L1524.44 1077.16ZM1524.44 1072.9L1532.96 1072.9M1528.7 1068.64L1528.7 1077.16" fill="none" stroke="#1F968B" stroke-width="1.6"/><path d="M1538.84 1070.44L1547.36 1070.44L1547.36 1078.96L1538.84 1078.96ZM1538.84 1074.7L1547.36 1074.7M1543.1 1070.44L1543.1 1078.96" fill="none" stroke="#1F968B" stroke-width="1.6"/><path d="M1553.04 1072.04L1561.56 1072.04L1561.56 1080.56L1553.04 1080.56ZM1553.04 1076.3L1561.56 1076.3M1557.3 1072.04L1557.3 1080.56" fill="none" stroke="#1F968B" stroke-width="1.6"/><path d="M1566.14 1073.54L1574.66 1073.54L1574.66 1082.06L1566.14 1082.06ZM1566.14 1077.8L1574.66 1077.8M1570.4 1073.54L1570.4 1082.06" fill="none" stroke="#1F968B" stroke-width="1.6"/><path d="M1579.04 1074.64L1587.56 1074.64L1587.56 1083.16L1579.04 1083.16ZM1579.04 1078.9L1587.56 1078.9M1583.3 1074.64L1583.3 1083.16" fill="none" stroke="#1F968B" stroke-width="1.6"/><path d="M1591.94 1075.64L1600.46 1075.64L1600.46 1084.16L1591.94 1084.16ZM1591.94 1079.9L1600.46 1079.9M1596.2 1075.64L1596.2 1084.16" fill="none" stroke="#1F968B" stroke-width="1.6"/><path d="M1604.54 1077.24L1613.06 1077.24L1613.06 1085.76L1604.54 1085.76ZM1604.54 1081.5L1613.06 1081.5M1608.8 1077.24L1608.8 1085.76" fill="none" stroke="#1F968B" stroke-width="1.6"/><path d="M1615.04 1078.34L1623.56 1078.34L1623.56 1086.86L1615.04 1086.86ZM1615.04 1082.6L1623.56 1082.6M1619.3 1078.34L1619.3 1086.86" fill="none" stroke="#1F968B" stroke-width="1.6"/><path d="M1624.54 1078.84L1633.06 1078.84L1633.06 1087.36L1624.54 1087.36ZM1624.54 1083.1L1633.06 1083.1M1628.8 1078.84L1628.8 1087.36" fill="none" stroke="#1F968B" stroke-width="1.6"/><path d="M1633.94 1079.34L1642.46 1079.34L1642.46 1087.86L1633.94 1087.86ZM1633.94 1083.6L1642.46 1083.6M1638.2 1079.34L1638.2 1087.86" fill="none" stroke="#1F968B" stroke-width="1.6"/><path d="M1642.34 1080.24L1650.86 1080.24L1650.86 1088.76L1642.34 1088.76ZM1642.34 1084.5L1650.86 1084.5M1646.6 1080.24L1646.6 1088.76" fill="none" stroke="#1F968B" stroke-width="1.6"/><path d="M1649.34 1082.34L1657.86 1082.34L1657.86 1090.86L1649.34 1090.86ZM1649.34 1086.6L1657.86 1086.6M1653.6 1082.34L1653.6 1090.86" fill="none" stroke="#1F968B" stroke-width="1.6"/><path d="M1658.64 1083.44L1667.16 1083.44L1667.16 1091.96L1658.64 1091.96ZM1658.64 1087.7L1667.16 1087.7M1662.9 1083.44L1662.9 1091.96" fill="none" stroke="#1F968B" stroke-width="1.6"/><path d="M1668.04 1084.44L1676.56 1084.44L1676.56 1092.96L1668.04 1092.96ZM1668.04 1088.7L1676.56 1088.7M1672.3 1084.44L1672.3 1092.96" fill="none" stroke="#1F968B" stroke-width="1.6"/><path d="M1677.44 1085.54L1685.96 1085.54L1685.96 1094.06L1677.44 1094.06ZM1677.44 1089.8L1685.96 1089.8M1681.7 1085.54L1681.7 1094.06" fill="none" stroke="#1F968B" stroke-width="1.6"/><path d="M1685.74 1086.34L1694.26 1086.34L1694.26 1094.86L1685.74 1094.86ZM1685.74 1090.6L1694.26 1090.6M1690 1086.34L1690 1094.86" fill="none" stroke="#1F968B" stroke-width="1.6"/><path d="M1692.94 1087.14L1701.46 1087.14L1701.46 1095.66L1692.94 1095.66ZM1692.94 1091.4L1701.46 1091.4M1697.2 1087.14L1697.2 1095.66" fill="none" stroke="#1F968B" stroke-width="1.6"/><path d="M1699.14 1087.64L1707.66 1087.64L1707.66 1096.16L1699.14 1096.16ZM1699.14 1091.9L1707.66 1091.9M1703.4 1087.64L1703.4 1096.16" fill="none" stroke="#1F968B" stroke-width="1.6"/><path d="M1706.44 1088.14L1714.96 1088.14L1714.96 1096.66L1706.44 1096.66ZM1706.44 1092.4L1714.96 1092.4M1710.7 1088.14L1710.7 1096.66" fill="none" stroke="#1F968B" stroke-width="1.6"/><path d="M1714.74 1088.74L1723.26 1088.74L1723.26 1097.26L1714.74 1097.26ZM1714.74 1093L1723.26 1093M1719 1088.74L1719 1097.26" fill="none" stroke="#1F968B" stroke-width="1.6"/><path d="M1722.04 1089.24L1730.56 1089.24L1730.56 1097.76L1722.04 1097.76ZM1722.04 1093.5L1730.56 1093.5M1726.3 1089.24L1726.3 1097.76" fill="none" stroke="#1F968B" stroke-width="1.6"/><path d="M1729.24 1089.74L1737.76 1089.74L1737.76 1098.26L1729.24 1098.26ZM1729.24 1094L1737.76 1094M1733.5 1089.74L1733.5 1098.26" fill="none" stroke="#1F968B" stroke-width="1.6"/><path d="M1735.54 1090.04L1744.06 1090.04L1744.06 1098.56L1735.54 1098.56ZM1735.54 1094.3L1744.06 1094.3M1739.8 1090.04L1739.8 1098.56" fill="none" stroke="#1F968B" stroke-width="1.6"/><path d="M1742.84 1090.44L1751.36 1090.44L1751.36 1098.96L1742.84 1098.96ZM1742.84 1094.7L1751.36 1094.7M1747.1 1090.44L1747.1 1098.96" fill="none" stroke="#1F968B" stroke-width="1.6"/><path d="M1750.14 1090.84L1758.66 1090.84L1758.66 1099.36L1750.14 1099.36ZM1750.14 1095.1L1758.66 1095.1M1754.4 1090.84L1754.4 1099.36" fill="none" stroke="#1F968B" stroke-width="1.6"/><path d="M1757.34 1091.34L1765.86 1091.34L1765.86 1099.86L1757.34 1099.86ZM1757.34 1095.6L1765.86 1095.6M1761.6 1091.34L1761.6 1099.86" fill="none" stroke="#1F968B" stroke-width="1.6"/><path d="M1764.64 1091.64L1773.16 1091.64L1773.16 1100.16L1764.64 1100.16ZM1764.64 1095.9L1773.16 1095.9M1768.9 1091.64L1768.9 1100.16" fill="none" stroke="#1F968B" stroke-width="1.6"/><path d="M1771.84 1092.04L1780.36 1092.04L1780.36 1100.56L1771.84 1100.56ZM1771.84 1096.3L1780.36 1096.3M1776.1 1092.04L1776.1 1100.56" fill="none" stroke="#1F968B" stroke-width="1.6"/><path d="M1780.24 1092.44L1788.76 1092.44L1788.76 1100.96L1780.24 1100.96ZM1780.24 1096.7L1788.76 1096.7M1784.5 1092.44L1784.5 1100.96" fill="none" stroke="#1F968B" stroke-width="1.6"/><path d="M1788.54 1092.94L1797.06 1092.94L1797.06 1101.46L1788.54 1101.46ZM1788.54 1097.2L1797.06 1097.2M1792.8 1092.94L1792.8 1101.46" fill="none" stroke="#1F968B" stroke-width="1.6"/><path d="M1795.74 1093.44L1804.26 1093.44L1804.26 1101.96L1795.74 1101.96ZM1795.74 1097.7L1804.26 1097.7M1800 1093.44L1800 1101.96" fill="none" stroke="#1F968B" stroke-width="1.6"/><path d="M1804.64 1093.94L1813.16 1093.94L1813.16 1102.46L1804.64 1102.46ZM1804.64 1098.2L1813.16 1098.2M1808.9 1093.94L1808.9 1102.46" fill="none" stroke="#1F968B" stroke-width="1.6"/></g>
<g id="s10"><circle cx="1255" cy="1080.5" r="4.26" fill="none" stroke="#277F8E" stroke-width="1.6"/><path d="M1250.74 1080.5L1259.26 1080.5M1255 1076.24L1255 1084.76" fill="none" stroke="#277F8E" stroke-width="1.6"/><circle cx="1268" cy="1080.5" r="4.26" fill="none" stroke="#277F8E" stroke-width="1.6"/><path d="M1263.74 1080.5L1272.26 1080.5M1268 1076.24L1268 1084.76" fill="none" stroke="#277F8E" stroke-width="1.6"/><circle cx="1281" cy="1080" r="4.26" fill="none" stroke="#277F8E" stroke-width="1.6"/><path d="M1276.74 1080L1285.26 1080M1281 1075.74L1281 1084.26" fill="none" stroke="#277F8E" stroke-width="1.6"/><circle cx="1294" cy="1078.5" r="4.26" fill="none" stroke="#277F8E" stroke-width="1.6"/><path d="M1289.74 1078.5L1298.26 1078.5M1294 1074.24L1294 1082.76" fill="none" stroke="#277F8E" stroke-width="1.6"/><circle cx="1306" cy="1077" r="4.26" fill="none" stroke="#277F8E" stroke-width="1.6"/><path d="M1301.74 1077L1310.26 1077M1306 1072.74L1306 1081.26" fill="none" stroke="#277F8E" stroke-width="1.6"/><circle cx="1318.4" cy="1075.5" r="4.26" fill="none" stroke="#277F8E" stroke-width="1.6"/><path d="M1314.14 1075.5L1322.66 1075.5M1318.4 1071.24L1318.4 1079.76" fill="none" stroke="#277F8E" stroke-width="1.6"/><circle cx="1327.8" cy="1074.5" r="4.26" fill="none" stroke="#277F8E" stroke-width="1.6"/><path d="M1323.54 1074.5L1332.06 1074.5M1327.8 1070.24L1327.8 1078.76" fill="none" stroke="#277F8E" stroke-width="1.6"/><circle cx="1336.8" cy="1073.4" r="4.26" fill="none" stroke="#277F8E" stroke-width="1.6"/><path d="M1332.54 1073.4L1341.06 1073.4M1336.8 1069.14L1336.8 1077.66" fill="none" stroke="#277F8E" stroke-width="1.6"/><circle cx="1344.1" cy="1074.2" r="4.26" fill="none" stroke="#277F8E" stroke-width="1.6"/><path d="M1339.84 1074.2L1348.36 1074.2M1344.1 1069.94L1344.1 1078.46" fill="none" stroke="#277F8E" stroke-width="1.6"/><circle cx="1351.5" cy="1068.4" r="4.26" fill="none" stroke="#277F8E" stroke-width="1.6"/><path d="M1347.24 1068.4L1355.76 1068.4M1351.5 1064.14L1351.5 1072.66" fill="none" stroke="#277F8E" stroke-width="1.6"/><circle cx="1357.3" cy="1066.3" r="4.26" fill="none" stroke="#277F8E" stroke-width="1.6"/><path d="M1353.04 1066.3L1361.56 1066.3M1357.3 1062.04L1357.3 1070.56" fill="none" stroke="#277F8E" stroke-width="1.6"/><circle cx="1363.6" cy="1066.1" r="4.26" fill="none" stroke="#277F8E" stroke-width="1.6"/><path d="M1359.34 1066.1L1367.86 1066.1M1363.6 1061.84L1363.6 1070.36" fill="none" stroke="#277F8E" stroke-width="1.6"/><circle cx="1372" cy="1064.7" r="4.26" fill="none" stroke="#277F8E" stroke-width="1.6"/><path d="M1367.74 1064.7L1376.26 1064.7M1372 1060.44L1372 1068.96" fill="none" stroke="#277F8E" stroke-width="1.6"/><circle cx="1385.1" cy="1063.3" r="4.26" fill="none" stroke="#277F8E" stroke-width="1.6"/><path d="M1380.84 1063.3L1389.36 1063.3M1385.1 1059.04L1385.1 1067.56" fill="none" stroke="#277F8E" stroke-width="1.6"/><circle cx="1403.8" cy="1063.3" r="4.26" fill="none" stroke="#277F8E" stroke-width="1.6"/><path d="M1399.54 1063.3L1408.06 1063.3M1403.8 1059.04L1403.8 1067.56" fill="none" stroke="#277F8E" stroke-width="1.6"/><circle cx="1421.9" cy="1061.5" r="4.26" fill="none" stroke="#277F8E" stroke-width="1.6"/><path d="M1417.64 1061.5L1426.16 1061.5M1421.9 1057.24L1421.9 1065.76" fill="none" stroke="#277F8E" stroke-width="1.6"/><circle cx="1438.2" cy="1065.4" r="4.26" fill="none" stroke="#277F8E" stroke-width="1.6"/><path d="M1433.94 1065.4L1442.46 1065.4M1438.2 1061.14L1438.2 1069.66" fill="none" stroke="#277F8E" stroke-width="1.6"/><circle cx="1454.1" cy="1067.3" r="4.26" fill="none" stroke="#277F8E" stroke-width="1.6"/><path d="M1449.84 1067.3L1458.36 1067.3M1454.1 1063.04L1454.1 1071.56" fill="none" stroke="#277F8E" stroke-width="1.6"/><circle cx="1471" cy="1067.9" r="4.26" fill="none" stroke="#277F8E" stroke-width="1.6"/><path d="M1466.74 1067.9L1475.26 1067.9M1471 1063.64L1471 1072.16" fill="none" stroke="#277F8E" stroke-width="1.6"/><circle cx="1485.7" cy="1071" r="4.26" fill="none" stroke="#277F8E" stroke-width="1.6"/><path d="M1481.44 1071L1489.96 1071M1485.7 1066.74L1485.7 1075.26" fill="none" stroke="#277F8E" stroke-width="1.6"/><circle cx="1499.8" cy="1072.4" r="4.26" fill="none" stroke="#277F8E" stroke-width="1.6"/><path d="M1495.54 1072.4L1504.06 1072.4M1499.8 1068.14L1499.8 1076.66" fill="none" stroke="#277F8E" stroke-width="1.6"/><circle cx="1511.2" cy="1075.2" r="4.26" fill="none" stroke="#277F8E" stroke-width="1.6"/><path d="M1506.94 1075.2L1515.46 1075.2M1511.2 1070.94L1511.2 1079.46" fill="none" stroke="#277F8E" stroke-width="1.6"/><circle cx="1522.4" cy="1077.2" r="4.26" fill="none" stroke="#277F8E" stroke-width="1.6"/><path d="M1518.14 1077.2L1526.66 1077.2M1522.4 1072.94L1522.4 1081.46" fill="none" stroke="#277F8E" stroke-width="1.6"/><circle cx="1535.1" cy="1079.2" r="4.26" fill="none" stroke="#277F8E" stroke-width="1.6"/><path d="M1530.84 1079.2L1539.36 1079.2M1535.1 1074.94L1535.1 1083.46" fill="none" stroke="#277F8E" stroke-width="1.6"/><circle cx="1547.3" cy="1081.5" r="4.26" fill="none" stroke="#277F8E" stroke-width="1.6"/><path d="M1543.04 1081.5L1551.56 1081.5M1547.3 1077.24L1547.3 1085.76" fill="none" stroke="#277F8E" stroke-width="1.6"/><circle cx="1558.8" cy="1083.6" r="4.26" fill="none" stroke="#277F8E" stroke-width="1.6"/><path d="M1554.54 1083.6L1563.06 1083.6M1558.8 1079.34L1558.8 1087.86" fill="none" stroke="#277F8E" stroke-width="1.6"/><circle cx="1572.3" cy="1085.7" r="4.26" fill="none" stroke="#277F8E" stroke-width="1.6"/><path d="M1568.04 1085.7L1576.56 1085.7M1572.3 1081.44L1572.3 1089.96" fill="none" stroke="#277F8E" stroke-width="1.6"/><circle cx="1585.6" cy="1088.3" r="4.26" fill="none" stroke="#277F8E" stroke-width="1.6"/><path d="M1581.34 1088.3L1589.86 1088.3M1585.6 1084.04L1585.6 1092.56" fill="none" stroke="#277F8E" stroke-width="1.6"/><circle cx="1597.2" cy="1089.4" r="4.26" fill="none" stroke="#277F8E" stroke-width="1.6"/><path d="M1592.94 1089.4L1601.46 1089.4M1597.2 1085.14L1597.2 1093.66" fill="none" stroke="#277F8E" stroke-width="1.6"/><circle cx="1606.7" cy="1090.5" r="4.26" fill="none" stroke="#277F8E" stroke-width="1.6"/><path d="M1602.44 1090.5L1610.96 1090.5M1606.7 1086.24L1606.7 1094.76" fill="none" stroke="#277F8E" stroke-width="1.6"/><circle cx="1613" cy="1091" r="4.26" fill="none" stroke="#277F8E" stroke-width="1.6"/><path d="M1608.74 1091L1617.26 1091M1613 1086.74L1613 1095.26" fill="none" stroke="#277F8E" stroke-width="1.6"/><circle cx="1618.8" cy="1091.5" r="4.26" fill="none" stroke="#277F8E" stroke-width="1.6"/><path d="M1614.54 1091.5L1623.06 1091.5M1618.8 1087.24L1618.8 1095.76" fill="none" stroke="#277F8E" stroke-width="1.6"/></g>
<g id="s11"><path d="M156.1 748.88L161.83 760.46L150.37 760.46ZM156.1 762.12L161.83 750.54L150.37 750.54Z" fill="none" stroke="#238A8D" stroke-width="1.6"/><path d="M163.1 749.38L168.83 760.96L157.37 760.96ZM163.1 762.62L168.83 751.04L157.37 751.04Z" fill="none" stroke="#238A8D" stroke-width="1.6"/><path d="M169.6 750.08L175.33 761.66L163.87 761.66ZM169.6 763.32L175.33 751.74L163.87 751.74Z" fill="none" stroke="#238A8D" stroke-width="1.6"/><path d="M174.6 751.68L180.33 763.26L168.87 763.26ZM174.6 764.92L180.33 753.34L168.87 753.34Z" fill="none" stroke="#238A8D" stroke-width="1.6"/><path d="M179.5 753.88L185.23 765.46L173.77 765.46ZM179.5 767.12L185.23 755.54L173.77 755.54Z" fill="none" stroke="#238A8D" stroke-width="1.6"/><path d="M186.9 754.98L192.63 766.56L181.17 766.56ZM186.9 768.22L192.63 756.64L181.17 756.64Z" fill="none" stroke="#238A8D" stroke-width="1.6"/><path d="M195.5 762.08L201.23 773.66L189.77 773.66ZM195.5 775.32L201.23 763.74L189.77 763.74Z" fill="none" stroke="#238A8D" stroke-width="1.6"/><path d="M204.5 769.98L210.23 781.56L198.77 781.56ZM204.5 783.22L210.23 771.64L198.77 771.64Z" fill="none" stroke="#238A8D" stroke-width="1.6"/><path d="M214.1 776.88L219.83 788.46L208.37 788.46ZM214.1 790.12L219.83 778.54L208.37 778.54Z" fill="none" stroke="#238A8D" stroke-width="1.6"/><path d="M224.3 785.08L230.03 796.66L218.57 796.66ZM224.3 798.32L230.03 786.74L218.57 786.74Z" fill="none" stroke="#238A8D" stroke-width="1.6"/><path d="M235.2 793.88L240.93 805.46L229.47 805.46ZM235.2 807.12L240.93 795.54L229.47 795.54Z" fill="none" stroke="#238A8D" stroke-width="1.6"/><path d="M247.2 806.98L252.93 818.56L241.47 818.56ZM247.2 820.22L252.93 808.64L241.47 808.64Z" fill="none" stroke="#238A8D" stroke-width="1.6"/><path d="M259.2 818.08L264.93 829.66L253.47 829.66ZM259.2 831.32L264.93 819.74L253.47 819.74Z" fill="none" stroke="#238A8D" stroke-width="1.6"/><path d="M271.9 827.58L277.63 839.16L266.17 839.16ZM271.9 840.82L277.63 829.24L266.17 829.24Z" fill="none" stroke="#238A8D" stroke-width="1.6"/><path d="M286.2 836.98L291.93 848.56L280.47 848.56ZM286.2 850.22L291.93 838.64L280.47 838.64Z" fill="none" stroke="#238A8D" stroke-width="1.6"/><path d="M301.7 847.18L307.43 858.76L295.97 858.76ZM301.7 860.42L307.43 848.84L295.97 848.84Z" fill="none" stroke="#238A8D" stroke-width="1.6"/><path d="M318.2 856.78L323.93 868.36L312.47 868.36ZM318.2 870.02L323.93 858.44L312.47 858.44Z" fill="none" stroke="#238A8D" stroke-width="1.6"/><path d="M336.3 867.98L342.03 879.56L330.57 879.56ZM336.3 881.22L342.03 869.64L330.57 869.64Z" fill="none" stroke="#238A8D" stroke-width="1.6"/><path d="M355.4 877.88L361.13 889.46L349.67 889.46ZM355.4 891.12L361.13 879.54L349.67 879.54Z" fill="none" stroke="#238A8D" stroke-width="1.6"/><path d="M374.8 886.38L380.53 897.96L369.07 897.96ZM374.8 899.62L380.53 888.04L369.07 888.04Z" fill="none" stroke="#238A8D" stroke-width="1.6"/><path d="M394.9 894.58L400.63 906.16L389.17 906.16ZM394.9 907.82L400.63 896.24L389.17 896.24Z" fill="none" stroke="#238A8D" stroke-width="1.6"/><path d="M415.3 901.18L421.03 912.76L409.57 912.76ZM415.3 914.42L421.03 902.84L409.57 902.84Z" fill="none" stroke="#238A8D" stroke-width="1.6"/><path d="M434.7 907.48L440.43 919.06L428.97 919.06ZM434.7 920.72L440.43 909.14L428.97 909.14Z" fill="none" stroke="#238A8D" stroke-width="1.6"/><path d="M453.8 912.88L459.53 924.46L448.07 924.46ZM453.8 926.12L459.53 914.54L448.07 914.54Z" fill="none" stroke="#238A8D" stroke-width="1.6"/><path d="M473.8 918.18L479.53 929.76L468.07 929.76ZM473.8 931.42L479.53 919.84L468.07 919.84Z" fill="none" stroke="#238A8D" stroke-width="1.6"/><path d="M494.1 923.28L499.83 934.86L488.37 934.86ZM494.1 936.52L499.83 924.94L488.37 924.94Z" fill="none" stroke="#238A8D" stroke-width="1.6"/><path d="M514.2 928.38L519.93 939.96L508.47 939.96ZM514.2 941.62L519.93 930.04L508.47 930.04Z" fill="none" stroke="#238A8D" stroke-width="1.6"/><path d="M534.1 933.48L539.83 945.06L528.37 945.06ZM534.1 946.72L539.83 935.14L528.37 935.14Z" fill="none" stroke="#238A8D" stroke-width="1.6"/><path d="M554.4 938.78L560.13 950.36L548.67 950.36ZM554.4 952.02L560.13 940.44L548.67 940.44Z" fill="none" stroke="#238A8D" stroke-width="1.6"/><path d="M574.8 944.08L580.53 955.66L569.07 955.66ZM574.8 957.32L580.53 945.74L569.07 945.74Z" fill="none" stroke="#238A8D" stroke-width="1.6"/><path d="M592.9 947.28L598.63 958.86L587.17 958.86ZM592.9 960.52L598.63 948.94L587.17 948.94Z" fill="none" stroke="#238A8D" stroke-width="1.6"/><path d="M609.4 949.68L615.13 961.26L603.67 961.26ZM609.4 962.92L615.13 951.34L603.67 951.34Z" fill="none" stroke="#238A8D" stroke-width="1.6"/></g>
<g id="s13"><circle cx="1525.7" cy="1100" r="4.26" fill="none" stroke="#1FA187" stroke-width="1.6"/><path d="M1521.44 1095.74L1529.96 1104.26M1521.44 1104.26L1529.96 1095.74" fill="none" stroke="#1FA187" stroke-width="1.6"/><circle cx="1535.7" cy="1100.09" r="4.26" fill="none" stroke="#1FA187" stroke-width="1.6"/><path d="M1531.44 1095.84L1539.96 1104.35M1531.44 1104.35L1539.96 1095.84" fill="none" stroke="#1FA187" stroke-width="1.6"/><circle cx="1544.6" cy="1100.18" r="4.26" fill="none" stroke="#1FA187" stroke-width="1.6"/><path d="M1540.34 1095.92L1548.86 1104.43M1540.34 1104.43L1548.86 1095.92" fill="none" stroke="#1FA187" stroke-width="1.6"/><circle cx="1553.6" cy="1100.26" r="4.26" fill="none" stroke="#1FA187" stroke-width="1.6"/><path d="M1549.34 1096L1557.86 1104.52M1549.34 1104.52L1557.86 1096" fill="none" stroke="#1FA187" stroke-width="1.6"/><circle cx="1562" cy="1100.34" r="4.26" fill="none" stroke="#1FA187" stroke-width="1.6"/><path d="M1557.74 1096.08L1566.26 1104.59M1557.74 1104.59L1566.26 1096.08" fill="none" stroke="#1FA187" stroke-width="1.6"/><circle cx="1570.4" cy="1100.41" r="4.26" fill="none" stroke="#1FA187" stroke-width="1.6"/><path d="M1566.14 1096.16L1574.66 1104.67M1566.14 1104.67L1574.66 1096.16" fill="none" stroke="#1FA187" stroke-width="1.6"/><circle cx="1578.8" cy="1100.49" r="4.26" fill="none" stroke="#1FA187" stroke-width="1.6"/><path d="M1574.54 1096.24L1583.06 1104.75M1574.54 1104.75L1583.06 1096.24" fill="none" stroke="#1FA187" stroke-width="1.6"/><circle cx="1587.7" cy="1100.58" r="4.26" fill="none" stroke="#1FA187" stroke-width="1.6"/><path d="M1583.44 1096.32L1591.96 1104.83M1583.44 1104.83L1591.96 1096.32" fill="none" stroke="#1FA187" stroke-width="1.6"/><circle cx="1595.6" cy="1100.65" r="4.26" fill="none" stroke="#1FA187" stroke-width="1.6"/><path d="M1591.34 1096.39L1599.86 1104.91M1591.34 1104.91L1599.86 1096.39" fill="none" stroke="#1FA187" stroke-width="1.6"/><circle cx="1604" cy="1100.73" r="4.26" fill="none" stroke="#1FA187" stroke-width="1.6"/><path d="M1599.74 1096.47L1608.26 1104.98M1599.74 1104.98L1608.26 1096.47" fill="none" stroke="#1FA187" stroke-width="1.6"/><circle cx="1611.7" cy="1100.8" r="4.26" fill="none" stroke="#1FA187" stroke-width="1.6"/><path d="M1607.45 1096.54L1615.96 1105.05M1607.45 1105.05L1615.96 1096.54" fill="none" stroke="#1FA187" stroke-width="1.6"/><circle cx="1619.41" cy="1100.87" r="4.26" fill="none" stroke="#1FA187" stroke-width="1.6"/><path d="M1615.15 1096.61L1623.67 1105.13M1615.15 1105.13L1623.67 1096.61" fill="none" stroke="#1FA187" stroke-width="1.6"/><circle cx="1627.11" cy="1100.94" r="4.26" fill="none" stroke="#1FA187" stroke-width="1.6"/><path d="M1622.86 1096.69L1631.37 1105.2M1622.86 1105.2L1631.37 1096.69" fill="none" stroke="#1FA187" stroke-width="1.6"/><circle cx="1634.82" cy="1101.01" r="4.26" fill="none" stroke="#1FA187" stroke-width="1.6"/><path d="M1630.56 1096.76L1639.07 1105.27M1630.56 1105.27L1639.07 1096.76" fill="none" stroke="#1FA187" stroke-width="1.6"/><circle cx="1642.52" cy="1101.08" r="4.26" fill="none" stroke="#1FA187" stroke-width="1.6"/><path d="M1638.27 1096.83L1646.78 1105.34M1638.27 1105.34L1646.78 1096.83" fill="none" stroke="#1FA187" stroke-width="1.6"/><circle cx="1650.23" cy="1101.16" r="4.26" fill="none" stroke="#1FA187" stroke-width="1.6"/><path d="M1645.97 1096.9L1654.48 1105.41M1645.97 1105.41L1654.48 1096.9" fill="none" stroke="#1FA187" stroke-width="1.6"/><circle cx="1657.93" cy="1101.23" r="4.26" fill="none" stroke="#1FA187" stroke-width="1.6"/><path d="M1653.68 1096.97L1662.19 1105.48M1653.68 1105.48L1662.19 1096.97" fill="none" stroke="#1FA187" stroke-width="1.6"/><circle cx="1665.64" cy="1101.3" r="4.26" fill="none" stroke="#1FA187" stroke-width="1.6"/><path d="M1661.38 1097.04L1669.89 1105.56M1661.38 1105.56L1669.89 1097.04" fill="none" stroke="#1FA187" stroke-width="1.6"/><circle cx="1673.34" cy="1101.37" r="4.26" fill="none" stroke="#1FA187" stroke-width="1.6"/><path d="M1669.08 1097.11L1677.6 1105.63M1669.08 1105.63L1677.6 1097.11" fill="none" stroke="#1FA187" stroke-width="1.6"/><circle cx="1681.05" cy="1101.44" r="4.26" fill="none" stroke="#1FA187" stroke-width="1.6"/><path d="M1676.79 1097.19L1685.3 1105.7M1676.79 1105.7L1685.3 1097.19" fill="none" stroke="#1FA187" stroke-width="1.6"/><circle cx="1688.75" cy="1101.51" r="4.26" fill="none" stroke="#1FA187" stroke-width="1.6"/><path d="M1684.49 1097.26L1693.01 1105.77M1684.49 1105.77L1693.01 1097.26" fill="none" stroke="#1FA187" stroke-width="1.6"/><circle cx="1696.45" cy="1101.58" r="4.26" fill="none" stroke="#1FA187" stroke-width="1.6"/><path d="M1692.2 1097.33L1700.71 1105.84M1692.2 1105.84L1700.71 1097.33" fill="none" stroke="#1FA187" stroke-width="1.6"/><circle cx="1704.16" cy="1101.66" r="4.26" fill="none" stroke="#1FA187" stroke-width="1.6"/><path d="M1699.9 1097.4L1708.42 1105.91M1699.9 1105.91L1708.42 1097.4" fill="none" stroke="#1FA187" stroke-width="1.6"/><circle cx="1711.86" cy="1101.73" r="4.26" fill="none" stroke="#1FA187" stroke-width="1.6"/><path d="M1707.61 1097.47L1716.12 1105.98M1707.61 1105.98L1716.12 1097.47" fill="none" stroke="#1FA187" stroke-width="1.6"/><circle cx="1719.57" cy="1101.8" r="4.26" fill="none" stroke="#1FA187" stroke-width="1.6"/><path d="M1715.31 1097.54L1723.82 1106.06M1715.31 1106.06L1723.82 1097.54" fill="none" stroke="#1FA187" stroke-width="1.6"/><circle cx="1727.27" cy="1101.87" r="4.26" fill="none" stroke="#1FA187" stroke-width="1.6"/><path d="M1723.02 1097.61L1731.53 1106.13M1723.02 1106.13L1731.53 1097.61" fill="none" stroke="#1FA187" stroke-width="1.6"/><circle cx="1734.98" cy="1101.94" r="4.26" fill="none" stroke="#1FA187" stroke-width="1.6"/><path d="M1730.72 1097.69L1739.23 1106.2M1730.72 1106.2L1739.23 1097.69" fill="none" stroke="#1FA187" stroke-width="1.6"/><circle cx="1742.68" cy="1102.01" r="4.26" fill="none" stroke="#1FA187" stroke-width="1.6"/><path d="M1738.43 1097.76L1746.94 1106.27M1738.43 1106.27L1746.94 1097.76" fill="none" stroke="#1FA187" stroke-width="1.6"/><circle cx="1750.39" cy="1102.09" r="4.26" fill="none" stroke="#1FA187" stroke-width="1.6"/><path d="M1746.13 1097.83L1754.64 1106.34M1746.13 1106.34L1754.64 1097.83" fill="none" stroke="#1FA187" stroke-width="1.6"/><circle cx="1758.09" cy="1102.16" r="4.26" fill="none" stroke="#1FA187" stroke-width="1.6"/><path d="M1753.83 1097.9L1762.35 1106.41M1753.83 1106.41L1762.35 1097.9" fill="none" stroke="#1FA187" stroke-width="1.6"/><circle cx="1765.8" cy="1102.23" r="4.26" fill="none" stroke="#1FA187" stroke-width="1.6"/><path d="M1761.54 1097.97L1770.05 1106.48M1761.54 1106.48L1770.05 1097.97" fill="none" stroke="#1FA187" stroke-width="1.6"/><circle cx="1773.5" cy="1102.3" r="4.26" fill="none" stroke="#1FA187" stroke-width="1.6"/><path d="M1769.24 1098.04L1777.76 1106.56M1769.24 1106.56L1777.76 1098.04" fill="none" stroke="#1FA187" stroke-width="1.6"/></g>
<g id="s14"><path d="M675.94 1019.14L684.46 1019.14L684.46 1027.66L675.94 1027.66ZM680.2 1019.14L684.46 1027.66L675.94 1027.66Z" fill="none" stroke="#26AD81" stroke-width="1.6"/><path d="M697.74 1020.74L706.26 1020.74L706.26 1029.26L697.74 1029.26ZM702 1020.74L706.26 1029.26L697.74 1029.26Z" fill="none" stroke="#26AD81" stroke-width="1.6"/><path d="M718.44 1022.74L726.96 1022.74L726.96 1031.26L718.44 1031.26ZM722.7 1022.74L726.96 1031.26L718.44 1031.26Z" fill="none" stroke="#26AD81" stroke-width="1.6"/><path d="M739.24 1023.94L747.76 1023.94L747.76 1032.46L739.24 1032.46ZM743.5 1023.94L747.76 1032.46L739.24 1032.46Z" fill="none" stroke="#26AD81" stroke-width="1.6"/><path d="M760.44 1025.64L768.96 1025.64L768.96 1034.16L760.44 1034.16ZM764.7 1025.64L768.96 1034.16L760.44 1034.16Z" fill="none" stroke="#26AD81" stroke-width="1.6"/><path d="M781.34 1027.14L789.86 1027.14L789.86 1035.66L781.34 1035.66ZM785.6 1027.14L789.86 1035.66L781.34 1035.66Z" fill="none" stroke="#26AD81" stroke-width="1.6"/><path d="M801.44 1029.04L809.96 1029.04L809.96 1037.56L801.44 1037.56ZM805.7 1029.04L809.96 1037.56L801.44 1037.56Z" fill="none" stroke="#26AD81" stroke-width="1.6"/><path d="M821.04 1030.54L829.56 1030.54L829.56 1039.06L821.04 1039.06ZM825.3 1030.54L829.56 1039.06L821.04 1039.06Z" fill="none" stroke="#26AD81" stroke-width="1.6"/><path d="M840.34 1033.04L848.86 1033.04L848.86 1041.56L840.34 1041.56ZM844.6 1033.04L848.86 1041.56L840.34 1041.56Z" fill="none" stroke="#26AD81" stroke-width="1.6"/><path d="M859.74 1035.54L868.26 1035.54L868.26 1044.06L859.74 1044.06ZM864 1035.54L868.26 1044.06L859.74 1044.06Z" fill="none" stroke="#26AD81" stroke-width="1.6"/><path d="M879.94 1038.54L888.46 1038.54L888.46 1047.06L879.94 1047.06ZM884.2 1038.54L888.46 1047.06L879.94 1047.06Z" fill="none" stroke="#26AD81" stroke-width="1.6"/><path d="M898.84 1040.44L907.36 1040.44L907.36 1048.96L898.84 1048.96ZM903.1 1040.44L907.36 1048.96L898.84 1048.96Z" fill="none" stroke="#26AD81" stroke-width="1.6"/><path d="M916.74 1043.34L925.26 1043.34L925.26 1051.86L916.74 1051.86ZM921 1043.34L925.26 1051.86L916.74 1051.86Z" fill="none" stroke="#26AD81" stroke-width="1.6"/><path d="M934.64 1045.64L943.16 1045.64L943.16 1054.16L934.64 1054.16ZM938.9 1045.64L943.16 1054.16L934.64 1054.16Z" fill="none" stroke="#26AD81" stroke-width="1.6"/><path d="M954.04 1047.84L962.56 1047.84L962.56 1056.36L954.04 1056.36ZM958.3 1047.84L962.56 1056.36L954.04 1056.36Z" fill="none" stroke="#26AD81" stroke-width="1.6"/><path d="M972.44 1049.94L980.96 1049.94L980.96 1058.46L972.44 1058.46ZM976.7 1049.94L980.96 1058.46L972.44 1058.46Z" fill="none" stroke="#26AD81" stroke-width="1.6"/><path d="M989.84 1052.04L998.36 1052.04L998.36 1060.56L989.84 1060.56ZM994.1 1052.04L998.36 1060.56L989.84 1060.56Z" fill="none" stroke="#26AD81" stroke-width="1.6"/><path d="M1006.64 1054.14L1015.16 1054.14L1015.16 1062.66L1006.64 1062.66ZM1010.9 1054.14L1015.16 1062.66L1006.64 1062.66Z" fill="none" stroke="#26AD81" stroke-width="1.6"/><path d="M1021.94 1055.64L1030.46 1055.64L1030.46 1064.16L1021.94 1064.16ZM1026.2 1055.64L1030.46 1064.16L1021.94 1064.16Z" fill="none" stroke="#26AD81" stroke-width="1.6"/><path d="M1035.54 1057.24L1044.06 1057.24L1044.06 1065.76L1035.54 1065.76ZM1039.8 1057.24L1044.06 1065.76L1035.54 1065.76Z" fill="none" stroke="#26AD81" stroke-width="1.6"/><path d="M1047.64 1058.84L1056.16 1058.84L1056.16 1067.36L1047.64 1067.36ZM1051.9 1058.84L1056.16 1067.36L1047.64 1067.36Z" fill="none" stroke="#26AD81" stroke-width="1.6"/><path d="M1061.34 1059.84L1069.86 1059.84L1069.86 1068.36L1061.34 1068.36ZM1065.6 1059.84L1069.86 1068.36L1061.34 1068.36Z" fill="none" stroke="#26AD81" stroke-width="1.6"/><path d="M1078.34 1061.94L1086.86 1061.94L1086.86 1070.46L1078.34 1070.46ZM1082.6 1061.94L1086.86 1070.46L1078.34 1070.46Z" fill="none" stroke="#26AD81" stroke-width="1.6"/><path d="M1096.24 1063.04L1104.76 1063.04L1104.76 1071.56L1096.24 1071.56ZM1100.5 1063.04L1104.76 1071.56L1096.24 1071.56Z" fill="none" stroke="#26AD81" stroke-width="1.6"/><path d="M1114.14 1064.04L1122.66 1064.04L1122.66 1072.56L1114.14 1072.56ZM1118.4 1064.04L1122.66 1072.56L1114.14 1072.56Z" fill="none" stroke="#26AD81" stroke-width="1.6"/><path d="M1134.04 1065.14L1142.56 1065.14L1142.56 1073.66L1134.04 1073.66ZM1138.3 1065.14L1142.56 1073.66L1134.04 1073.66Z" fill="none" stroke="#26AD81" stroke-width="1.6"/><path d="M1153.04 1066.24L1161.56 1066.24L1161.56 1074.76L1153.04 1074.76ZM1157.3 1066.24L1161.56 1074.76L1153.04 1074.76Z" fill="none" stroke="#26AD81" stroke-width="1.6"/><path d="M1173.04 1067.24L1181.56 1067.24L1181.56 1075.76L1173.04 1075.76ZM1177.3 1067.24L1181.56 1075.76L1173.04 1075.76Z" fill="none" stroke="#26AD81" stroke-width="1.6"/><path d="M1190.84 1068.84L1199.36 1068.84L1199.36 1077.36L1190.84 1077.36ZM1195.1 1068.84L1199.36 1077.36L1190.84 1077.36Z" fill="none" stroke="#26AD81" stroke-width="1.6"/><path d="M1208.74 1070.44L1217.26 1070.44L1217.26 1078.96L1208.74 1078.96ZM1213 1070.44L1217.26 1078.96L1208.74 1078.96Z" fill="none" stroke="#26AD81" stroke-width="1.6"/><path d="M1226.64 1071.94L1235.16 1071.94L1235.16 1080.46L1226.64 1080.46ZM1230.9 1071.94L1235.16 1080.46L1226.64 1080.46Z" fill="none" stroke="#26AD81" stroke-width="1.6"/><path d="M1243.44 1074.04L1251.96 1074.04L1251.96 1082.56L1243.44 1082.56ZM1247.7 1074.04L1251.96 1082.56L1243.44 1082.56Z" fill="none" stroke="#26AD81" stroke-width="1.6"/></g>
<g id="s15"><rect x="557.44" y="810.64" width="8.51" height="8.51" fill="#35B779"/><rect x="565.74" y="816.04" width="8.51" height="8.51" fill="#35B779"/><rect x="573.94" y="821.84" width="8.51" height="8.51" fill="#35B779"/><rect x="582.64" y="828.94" width="8.51" height="8.51" fill="#35B779"/><rect x="592.54" y="835.54" width="8.51" height="8.51" fill="#35B779"/><rect x="601.94" y="839.14" width="8.51" height="8.51" fill="#35B779"/><rect x="611.84" y="841.64" width="8.51" height="8.51" fill="#35B779"/><rect x="620.54" y="846.84" width="8.51" height="8.51" fill="#35B779"/><rect x="629.24" y="852.34" width="8.51" height="8.51" fill="#35B779"/><rect x="637.54" y="858.04" width="8.51" height="8.51" fill="#35B779"/><rect x="644.04" y="863.04" width="8.51" height="8.51" fill="#35B779"/><rect x="649.34" y="868.74" width="8.51" height="8.51" fill="#35B779"/><rect x="653.44" y="872.84" width="8.51" height="8.51" fill="#35B779"/><rect x="657.54" y="877.04" width="8.51" height="8.51" fill="#35B779"/><rect x="661.74" y="881.14" width="8.51" height="8.51" fill="#35B779"/><rect x="666.64" y="882.44" width="8.51" height="8.51" fill="#35B779"/><rect x="671.14" y="885.74" width="8.51" height="8.51" fill="#35B779"/><rect x="675.74" y="890.14" width="8.51" height="8.51" fill="#35B779"/><rect x="679.04" y="896.74" width="8.51" height="8.51" fill="#35B779"/><rect x="681.44" y="899.24" width="8.51" height="8.51" fill="#35B779"/><rect x="685.94" y="900.84" width="8.51" height="8.51" fill="#35B779"/><rect x="690.54" y="902.84" width="8.51" height="8.51" fill="#35B779"/><rect x="694.64" y="906.64" width="8.51" height="8.51" fill="#35B779"/><rect x="700.44" y="910.74" width="8.51" height="8.51" fill="#35B779"/><rect x="706.94" y="915.34" width="8.51" height="8.51" fill="#35B779"/><rect x="714.44" y="919.04" width="8.51" height="8.51" fill="#35B779"/><rect x="722.64" y="925.54" width="8.51" height="8.51" fill="#35B779"/><rect x="730.04" y="929.74" width="8.51" height="8.51" fill="#35B779"/><rect x="735.84" y="931.34" width="8.51" height="8.51" fill="#35B779"/><rect x="741.54" y="933.04" width="8.51" height="8.51" fill="#35B779"/><rect x="748.14" y="934.14" width="8.51" height="8.51" fill="#35B779"/><rect x="753.14" y="936.24" width="8.51" height="8.51" fill="#35B779"/></g>
<g id="s17"><path d="M748.8 933.14L754.53 943.07L743.07 943.07Z" fill="#65CB5E"/><path d="M768.1 936.04L773.83 945.97L762.37 945.97Z" fill="#65CB5E"/><path d="M788.3 938.04L794.03 947.97L782.57 947.97Z" fill="#65CB5E"/><path d="M808.5 941.44L814.23 951.37L802.77 951.37Z" fill="#65CB5E"/><path d="M829 944.74L834.73 954.67L823.27 954.67Z" fill="#65CB5E"/><path d="M849.4 948.24L855.13 958.17L843.67 958.17Z" fill="#65CB5E"/><path d="M869.5 951.84L875.23 961.77L863.77 961.77Z" fill="#65CB5E"/><path d="M888.9 956.44L894.63 966.37L883.17 966.37Z" fill="#65CB5E"/><path d="M903.7 961.74L909.43 971.67L897.97 971.67Z" fill="#65CB5E"/><path d="M917.2 965.34L922.93 975.27L911.47 975.27Z" fill="#65CB5E"/><path d="M929.8 969.64L935.53 979.57L924.07 979.57Z" fill="#65CB5E"/><path d="M941.1 972.94L946.83 982.87L935.37 982.87Z" fill="#65CB5E"/><path d="M952.5 976.54L958.23 986.47L946.77 986.47Z" fill="#65CB5E"/><path d="M964.3 979.84L970.03 989.77L958.57 989.77Z" fill="#65CB5E"/><path d="M976.2 983.14L981.93 993.07L970.47 993.07Z" fill="#65CB5E"/><path d="M988.2 986.74L993.93 996.67L982.47 996.67Z" fill="#65CB5E"/><path d="M1000.9 990.24L1006.63 1000.17L995.17 1000.17Z" fill="#65CB5E"/><path d="M1014.6 993.84L1020.33 1003.77L1008.87 1003.77Z" fill="#65CB5E"/><path d="M1028.9 997.64L1034.63 1007.57L1023.17 1007.57Z" fill="#65CB5E"/><path d="M1042.9 1000.94L1048.63 1010.87L1037.17 1010.87Z" fill="#65CB5E"/><path d="M1057.2 1004.84L1062.93 1014.77L1051.47 1014.77Z" fill="#65CB5E"/><path d="M1072.9 1009.14L1078.63 1019.07L1067.17 1019.07Z" fill="#65CB5E"/><path d="M1089.5 1014.24L1095.23 1024.17L1083.77 1024.17Z" fill="#65CB5E"/><path d="M1105.8 1018.14L1111.53 1028.07L1100.07 1028.07Z" fill="#65CB5E"/><path d="M1122 1021.84L1127.73 1031.77L1116.27 1031.77Z" fill="#65CB5E"/><path d="M1137.9 1025.34L1143.63 1035.27L1132.17 1035.27Z" fill="#65CB5E"/><path d="M1153.8 1027.94L1159.53 1037.87L1148.07 1037.87Z" fill="#65CB5E"/><path d="M1169.5 1029.44L1175.23 1039.37L1163.77 1039.37Z" fill="#65CB5E"/><path d="M1185.2 1030.64L1190.93 1040.57L1179.47 1040.57Z" fill="#65CB5E"/><path d="M1200.8 1032.94L1206.53 1042.87L1195.07 1042.87Z" fill="#65CB5E"/><path d="M1213.6 1034.04L1219.33 1043.97L1207.87 1043.97Z" fill="#65CB5E"/><path d="M1225.6 1035.54L1231.33 1045.47L1219.87 1045.47Z" fill="#65CB5E"/></g>
<g id="s19"><circle cx="858.8" cy="961.7" r="4.26" fill="#A0DA39" stroke="#A0DA39" stroke-width="1.6"/><circle cx="872.6" cy="964.2" r="4.26" fill="#A0DA39" stroke="#A0DA39" stroke-width="1.6"/><circle cx="886.1" cy="962.2" r="4.26" fill="#A0DA39" stroke="#A0DA39" stroke-width="1.6"/><circle cx="899.5" cy="967" r="4.26" fill="#A0DA39" stroke="#A0DA39" stroke-width="1.6"/><circle cx="913" cy="961.4" r="4.26" fill="#A0DA39" stroke="#A0DA39" stroke-width="1.6"/><circle cx="926.8" cy="956.8" r="4.26" fill="#A0DA39" stroke="#A0DA39" stroke-width="1.6"/><circle cx="940.6" cy="949.1" r="4.26" fill="#A0DA39" stroke="#A0DA39" stroke-width="1.6"/><circle cx="954.1" cy="935.5" r="4.26" fill="#A0DA39" stroke="#A0DA39" stroke-width="1.6"/><circle cx="967.1" cy="924.7" r="4.26" fill="#A0DA39" stroke="#A0DA39" stroke-width="1.6"/><circle cx="979.2" cy="924.8" r="4.26" fill="#A0DA39" stroke="#A0DA39" stroke-width="1.6"/><circle cx="991" cy="910.4" r="4.26" fill="#A0DA39" stroke="#A0DA39" stroke-width="1.6"/><circle cx="1001.4" cy="905.6" r="4.26" fill="#A0DA39" stroke="#A0DA39" stroke-width="1.6"/><circle cx="1010.6" cy="892.1" r="4.26" fill="#A0DA39" stroke="#A0DA39" stroke-width="1.6"/><circle cx="1018.8" cy="876.6" r="4.26" fill="#A0DA39" stroke="#A0DA39" stroke-width="1.6"/><circle cx="1026.9" cy="867.4" r="4.26" fill="#A0DA39" stroke="#A0DA39" stroke-width="1.6"/><circle cx="1036.5" cy="859.1" r="4.26" fill="#A0DA39" stroke="#A0DA39" stroke-width="1.6"/><circle cx="1048" cy="853.1" r="4.26" fill="#A0DA39" stroke="#A0DA39" stroke-width="1.6"/><circle cx="1061" cy="856.3" r="4.26" fill="#A0DA39" stroke="#A0DA39" stroke-width="1.6"/><circle cx="1073.2" cy="857" r="4.26" fill="#A0DA39" stroke="#A0DA39" stroke-width="1.6"/><circle cx="1083.8" cy="861.3" r="4.26" fill="#A0DA39" stroke="#A0DA39" stroke-width="1.6"/><circle cx="1094.8" cy="872.9" r="4.26" fill="#A0DA39" stroke="#A0DA39" stroke-width="1.6"/><circle cx="1106.3" cy="888.2" r="4.26" fill="#A0DA39" stroke="#A0DA39" stroke-width="1.6"/><circle cx="1118.4" cy="901.4" r="4.26" fill="#A0DA39" stroke="#A0DA39" stroke-width="1.6"/><circle cx="1130.7" cy="912.9" r="4.26" fill="#A0DA39" stroke="#A0DA39" stroke-width="1.6"/><circle cx="1142.6" cy="921.7" r="4.26" fill="#A0DA39" stroke="#A0DA39" stroke-width="1.6"/><circle cx="1153.6" cy="929.6" r="4.26" fill="#A0DA39" stroke="#A0DA39" stroke-width="1.6"/><circle cx="1164.3" cy="938.1" r="4.26" fill="#A0DA39" stroke="#A0DA39" stroke-width="1.6"/><circle cx="1174.2" cy="949" r="4.26" fill="#A0DA39" stroke="#A0DA39" stroke-width="1.6"/><circle cx="1183.4" cy="956.6" r="4.26" fill="#A0DA39" stroke="#A0DA39" stroke-width="1.6"/><circle cx="1192.6" cy="962.7" r="4.26" fill="#A0DA39" stroke="#A0DA39" stroke-width="1.6"/><circle cx="1200.2" cy="964.6" r="4.26" fill="#A0DA39" stroke="#A0DA39" stroke-width="1.6"/><circle cx="1206.5" cy="964.6" r="4.26" fill="#A0DA39" stroke="#A0DA39" stroke-width="1.6"/></g>
<g id="s16"><circle cx="378.2" cy="666" r="4.26" fill="#4AC16D"/><circle cx="393.8" cy="671" r="4.26" fill="#4AC16D"/><circle cx="409.3" cy="676.6" r="4.26" fill="#4AC16D"/><circle cx="425.1" cy="686.1" r="4.26" fill="#4AC16D"/><circle cx="441.3" cy="692.7" r="4.26" fill="#4AC16D"/><circle cx="457.7" cy="698.5" r="4.26" fill="#4AC16D"/><circle cx="474.4" cy="697.6" r="4.26" fill="#4AC16D"/><circle cx="491" cy="693.5" r="4.26" fill="#4AC16D"/><circle cx="507.8" cy="695.7" r="4.26" fill="#4AC16D"/><circle cx="525.1" cy="723.6" r="4.26" fill="#4AC16D"/><circle cx="541.4" cy="730.9" r="4.26" fill="#4AC16D"/><circle cx="557.4" cy="739.3" r="4.26" fill="#4AC16D"/><circle cx="571.8" cy="752" r="4.26" fill="#4AC16D"/><circle cx="586.7" cy="764.6" r="4.26" fill="#4AC16D"/><circle cx="603" cy="789" r="4.26" fill="#4AC16D"/><circle cx="620.1" cy="792.3" r="4.26" fill="#4AC16D"/><circle cx="639" cy="800" r="4.26" fill="#4AC16D"/><circle cx="659.4" cy="808.3" r="4.26" fill="#4AC16D"/><circle cx="679.3" cy="818.2" r="4.26" fill="#4AC16D"/><circle cx="700.2" cy="834.7" r="4.26" fill="#4AC16D"/><circle cx="723.1" cy="846.2" r="4.26" fill="#4AC16D"/><circle cx="747" cy="856.1" r="4.26" fill="#4AC16D"/><circle cx="771.8" cy="866.8" r="4.26" fill="#4AC16D"/><circle cx="798.5" cy="875" r="4.26" fill="#4AC16D"/><circle cx="826" cy="886.7" r="4.26" fill="#4AC16D"/><circle cx="853.5" cy="894.2" r="4.26" fill="#4AC16D"/><circle cx="880.4" cy="901.8" r="4.26" fill="#4AC16D"/><circle cx="905.5" cy="907.7" r="4.26" fill="#4AC16D"/><circle cx="929.6" cy="914.6" r="4.26" fill="#4AC16D"/><circle cx="951.8" cy="924.2" r="4.26" fill="#4AC16D"/><circle cx="970.8" cy="932.1" r="4.26" fill="#4AC16D"/><circle cx="989.7" cy="938" r="4.26" fill="#4AC16D"/></g>
<g id="s18"><path d="M1060.74 1081L1065 1076.74L1069.26 1081L1065 1085.26Z" fill="#81D34D"/><path d="M1073.14 1083.1L1077.4 1078.84L1081.66 1083.1L1077.4 1087.36Z" fill="#81D34D"/><path d="M1087.84 1084.1L1092.1 1079.84L1096.36 1084.1L1092.1 1088.36Z" fill="#81D34D"/><path d="M1102.54 1084.6L1106.8 1080.34L1111.06 1084.6L1106.8 1088.86Z" fill="#81D34D"/><path d="M1117.24 1085.7L1121.5 1081.44L1125.76 1085.7L1121.5 1089.96Z" fill="#81D34D"/><path d="M1130.94 1085.7L1135.2 1081.44L1139.46 1085.7L1135.2 1089.96Z" fill="#81D34D"/><path d="M1143.54 1086.2L1147.8 1081.94L1152.06 1086.2L1147.8 1090.46Z" fill="#81D34D"/><path d="M1157.24 1086.8L1161.5 1082.54L1165.76 1086.8L1161.5 1091.06Z" fill="#81D34D"/><path d="M1170.74 1087.5L1175 1083.24L1179.26 1087.5L1175 1091.76Z" fill="#81D34D"/><path d="M1183.74 1088.3L1188 1084.04L1192.26 1088.3L1188 1092.56Z" fill="#81D34D"/><path d="M1196.74 1089L1201 1084.74L1205.26 1089L1201 1093.26Z" fill="#81D34D"/><path d="M1209.74 1089.7L1214 1085.44L1218.26 1089.7L1214 1093.96Z" fill="#81D34D"/><path d="M1222.74 1090.3L1227 1086.04L1231.26 1090.3L1227 1094.56Z" fill="#81D34D"/><path d="M1236.64 1091L1240.9 1086.74L1245.16 1091L1240.9 1095.26Z" fill="#81D34D"/><path d="M1248.74 1091.5L1253 1087.24L1257.26 1091.5L1253 1095.76Z" fill="#81D34D"/><path d="M1258.74 1092L1263 1087.74L1267.26 1092L1263 1096.26Z" fill="#81D34D"/><path d="M1266.24 1092.6L1270.5 1088.34L1274.76 1092.6L1270.5 1096.86Z" fill="#81D34D"/><path d="M1275.24 1093.6L1279.5 1089.34L1283.76 1093.6L1279.5 1097.86Z" fill="#81D34D"/><path d="M1283.94 1094.1L1288.2 1089.84L1292.46 1094.1L1288.2 1098.36Z" fill="#81D34D"/><path d="M1295.74 1094.4L1300 1090.14L1304.26 1094.4L1300 1098.66Z" fill="#81D34D"/><path d="M1309.34 1094.4L1313.6 1090.14L1317.86 1094.4L1313.6 1098.66Z" fill="#81D34D"/><path d="M1320.44 1094.7L1324.7 1090.44L1328.96 1094.7L1324.7 1098.96Z" fill="#81D34D"/><path d="M1328.84 1094.7L1333.1 1090.44L1337.36 1094.7L1333.1 1098.96Z" fill="#81D34D"/><path d="M1339.84 1094.7L1344.1 1090.44L1348.36 1094.7L1344.1 1098.96Z" fill="#81D34D"/><path d="M1358.24 1094.7L1362.5 1090.44L1366.76 1094.7L1362.5 1098.96Z" fill="#81D34D"/><path d="M1377.74 1094.9L1382 1090.64L1386.26 1094.9L1382 1099.16Z" fill="#81D34D"/><path d="M1395.04 1094.9L1399.3 1090.64L1403.56 1094.9L1399.3 1099.16Z" fill="#81D34D"/><path d="M1414.04 1094.9L1418.3 1090.64L1422.56 1094.9L1418.3 1099.16Z" fill="#81D34D"/><path d="M1429.74 1095.8L1434 1091.54L1438.26 1095.8L1434 1100.06Z" fill="#81D34D"/><path d="M1436.94 1096.2L1441.2 1091.94L1445.46 1096.2L1441.2 1100.46Z" fill="#81D34D"/><path d="M1442.74 1096.2L1447 1091.94L1451.26 1096.2L1447 1100.46Z" fill="#81D34D"/></g>
<g id="s20"><circle cx="839.8" cy="1074.8" r="2.84" fill="#C0DF25" stroke="#C0DF25" stroke-width="1.6"/><circle cx="851.8" cy="1075.6" r="2.84" fill="#C0DF25" stroke="#C0DF25" stroke-width="1.6"/><circle cx="861.5" cy="1075.6" r="2.84" fill="#C0DF25" stroke="#C0DF25" stroke-width="1.6"/><circle cx="870.7" cy="1074.5" r="2.84" fill="#C0DF25" stroke="#C0DF25" stroke-width="1.6"/><circle cx="880.5" cy="1075.4" r="2.84" fill="#C0DF25" stroke="#C0DF25" stroke-width="1.6"/><circle cx="890.4" cy="1076.3" r="2.84" fill="#C0DF25" stroke="#C0DF25" stroke-width="1.6"/><circle cx="901.6" cy="1077.3" r="2.84" fill="#C0DF25" stroke="#C0DF25" stroke-width="1.6"/><circle cx="912.6" cy="1077.3" r="2.84" fill="#C0DF25" stroke="#C0DF25" stroke-width="1.6"/><circle cx="923.6" cy="1077.6" r="2.84" fill="#C0DF25" stroke="#C0DF25" stroke-width="1.6"/><circle cx="935.2" cy="1078" r="2.84" fill="#C0DF25" stroke="#C0DF25" stroke-width="1.6"/><circle cx="948.3" cy="1079.4" r="2.84" fill="#C0DF25" stroke="#C0DF25" stroke-width="1.6"/><circle cx="961.5" cy="1080.8" r="2.84" fill="#C0DF25" stroke="#C0DF25" stroke-width="1.6"/><circle cx="975.2" cy="1081.5" r="2.84" fill="#C0DF25" stroke="#C0DF25" stroke-width="1.6"/><circle cx="989.4" cy="1082" r="2.84" fill="#C0DF25" stroke="#C0DF25" stroke-width="1.6"/><circle cx="1003" cy="1082.5" r="2.84" fill="#C0DF25" stroke="#C0DF25" stroke-width="1.6"/><circle cx="1017.7" cy="1083.6" r="2.84" fill="#C0DF25" stroke="#C0DF25" stroke-width="1.6"/><circle cx="1033" cy="1084.1" r="2.84" fill="#C0DF25" stroke="#C0DF25" stroke-width="1.6"/><circle cx="1048.8" cy="1084.6" r="2.84" fill="#C0DF25" stroke="#C0DF25" stroke-width="1.6"/><circle cx="1065.1" cy="1084.6" r="2.84" fill="#C0DF25" stroke="#C0DF25" stroke-width="1.6"/><circle cx="1080.3" cy="1085" r="2.84" fill="#C0DF25" stroke="#C0DF25" stroke-width="1.6"/><circle cx="1096.8" cy="1086.2" r="2.84" fill="#C0DF25" stroke="#C0DF25" stroke-width="1.6"/><circle cx="1112.6" cy="1086.8" r="2.84" fill="#C0DF25" stroke="#C0DF25" stroke-width="1.6"/><circle cx="1127.8" cy="1086.8" r="2.84" fill="#C0DF25" stroke="#C0DF25" stroke-width="1.6"/><circle cx="1142.6" cy="1086.8" r="2.84" fill="#C0DF25" stroke="#C0DF25" stroke-width="1.6"/><circle cx="1155.7" cy="1086.8" r="2.84" fill="#C0DF25" stroke="#C0DF25" stroke-width="1.6"/><circle cx="1167.8" cy="1087.3" r="2.84" fill="#C0DF25" stroke="#C0DF25" stroke-width="1.6"/><circle cx="1178.3" cy="1087.8" r="2.84" fill="#C0DF25" stroke="#C0DF25" stroke-width="1.6"/><circle cx="1189.3" cy="1088.3" r="2.84" fill="#C0DF25" stroke="#C0DF25" stroke-width="1.6"/><circle cx="1201.4" cy="1088.9" r="2.84" fill="#C0DF25" stroke="#C0DF25" stroke-width="1.6"/><circle cx="1213" cy="1089.4" r="2.84" fill="#C0DF25" stroke="#C0DF25" stroke-width="1.6"/><circle cx="1223" cy="1089.9" r="2.84" fill="#C0DF25" stroke="#C0DF25" stroke-width="1.6"/><circle cx="1232.5" cy="1089.9" r="2.84" fill="#C0DF25" stroke="#C0DF25" stroke-width="1.6"/></g>
<g id="s21"><circle cx="1473.6" cy="1099.8" r="4.26" fill="none" stroke="#DFE318" stroke-width="1.6"/><circle cx="1487.2" cy="1099.88" r="4.26" fill="none" stroke="#DFE318" stroke-width="1.6"/><circle cx="1501.1" cy="1099.96" r="4.26" fill="none" stroke="#DFE318" stroke-width="1.6"/><circle cx="1513.4" cy="1100.04" r="4.26" fill="none" stroke="#DFE318" stroke-width="1.6"/><circle cx="1526" cy="1100.11" r="4.26" fill="none" stroke="#DFE318" stroke-width="1.6"/><circle cx="1535" cy="1100.17" r="4.26" fill="none" stroke="#DFE318" stroke-width="1.6"/><circle cx="1542.92" cy="1100.21" r="4.26" fill="none" stroke="#DFE318" stroke-width="1.6"/><circle cx="1550.85" cy="1100.26" r="4.26" fill="none" stroke="#DFE318" stroke-width="1.6"/><circle cx="1558.77" cy="1100.31" r="4.26" fill="none" stroke="#DFE318" stroke-width="1.6"/><circle cx="1566.69" cy="1100.36" r="4.26" fill="none" stroke="#DFE318" stroke-width="1.6"/><circle cx="1574.62" cy="1100.4" r="4.26" fill="none" stroke="#DFE318" stroke-width="1.6"/><circle cx="1582.54" cy="1100.45" r="4.26" fill="none" stroke="#DFE318" stroke-width="1.6"/><circle cx="1590.46" cy="1100.5" r="4.26" fill="none" stroke="#DFE318" stroke-width="1.6"/><circle cx="1598.38" cy="1100.55" r="4.26" fill="none" stroke="#DFE318" stroke-width="1.6"/><circle cx="1606.31" cy="1100.59" r="4.26" fill="none" stroke="#DFE318" stroke-width="1.6"/><circle cx="1614.23" cy="1100.64" r="4.26" fill="none" stroke="#DFE318" stroke-width="1.6"/><circle cx="1622.15" cy="1100.69" r="4.26" fill="none" stroke="#DFE318" stroke-width="1.6"/><circle cx="1630.08" cy="1100.74" r="4.26" fill="none" stroke="#DFE318" stroke-width="1.6"/><circle cx="1638" cy="1100.78" r="4.26" fill="none" stroke="#DFE318" stroke-width="1.6"/><circle cx="1645.92" cy="1100.83" r="4.26" fill="none" stroke="#DFE318" stroke-width="1.6"/><circle cx="1653.85" cy="1100.88" r="4.26" fill="none" stroke="#DFE318" stroke-width="1.6"/><circle cx="1661.77" cy="1100.93" r="4.26" fill="none" stroke="#DFE318" stroke-width="1.6"/><circle cx="1669.69" cy="1100.97" r="4.26" fill="none" stroke="#DFE318" stroke-width="1.6"/><circle cx="1677.62" cy="1101.02" r="4.26" fill="none" stroke="#DFE318" stroke-width="1.6"/><circle cx="1685.54" cy="1101.07" r="4.26" fill="none" stroke="#DFE318" stroke-width="1.6"/><circle cx="1693.46" cy="1101.12" r="4.26" fill="none" stroke="#DFE318" stroke-width="1.6"/><circle cx="1701.38" cy="1101.16" r="4.26" fill="none" stroke="#DFE318" stroke-width="1.6"/><circle cx="1709.31" cy="1101.21" r="4.26" fill="none" stroke="#DFE318" stroke-width="1.6"/><circle cx="1717.23" cy="1101.26" r="4.26" fill="none" stroke="#DFE318" stroke-width="1.6"/><circle cx="1725.15" cy="1101.31" r="4.26" fill="none" stroke="#DFE318" stroke-width="1.6"/><circle cx="1733.08" cy="1101.35" r="4.26" fill="none" stroke="#DFE318" stroke-width="1.6"/><circle cx="1741" cy="1101.4" r="4.26" fill="none" stroke="#DFE318" stroke-width="1.6"/></g>
<g id="s22"><rect x="255.73" y="863.43" width="7.54" height="7.54" fill="none" stroke="#FDE725" stroke-width="1.6"/><rect x="265.53" y="863.43" width="7.54" height="7.54" fill="none" stroke="#FDE725" stroke-width="1.6"/><rect x="274.53" y="863.23" width="7.54" height="7.54" fill="none" stroke="#FDE725" stroke-width="1.6"/><rect x="283.63" y="862.73" width="7.54" height="7.54" fill="none" stroke="#FDE725" stroke-width="1.6"/><rect x="292.33" y="861.73" width="7.54" height="7.54" fill="none" stroke="#FDE725" stroke-width="1.6"/><rect x="300.93" y="861.63" width="7.54" height="7.54" fill="none" stroke="#FDE725" stroke-width="1.6"/><rect x="309.93" y="862.53" width="7.54" height="7.54" fill="none" stroke="#FDE725" stroke-width="1.6"/><rect x="319.03" y="864.53" width="7.54" height="7.54" fill="none" stroke="#FDE725" stroke-width="1.6"/><rect x="328.53" y="866.53" width="7.54" height="7.54" fill="none" stroke="#FDE725" stroke-width="1.6"/><rect x="338.43" y="869.13" width="7.54" height="7.54" fill="none" stroke="#FDE725" stroke-width="1.6"/><rect x="348.63" y="871.43" width="7.54" height="7.54" fill="none" stroke="#FDE725" stroke-width="1.6"/><rect x="359.83" y="874.93" width="7.54" height="7.54" fill="none" stroke="#FDE725" stroke-width="1.6"/><rect x="372.03" y="878.53" width="7.54" height="7.54" fill="none" stroke="#FDE725" stroke-width="1.6"/><rect x="385.53" y="882.63" width="7.54" height="7.54" fill="none" stroke="#FDE725" stroke-width="1.6"/><rect x="401.03" y="887.13" width="7.54" height="7.54" fill="none" stroke="#FDE725" stroke-width="1.6"/><rect x="418.43" y="893.23" width="7.54" height="7.54" fill="none" stroke="#FDE725" stroke-width="1.6"/><rect x="434.23" y="900.03" width="7.54" height="7.54" fill="none" stroke="#FDE725" stroke-width="1.6"/><rect x="451.83" y="905.93" width="7.54" height="7.54" fill="none" stroke="#FDE725" stroke-width="1.6"/><rect x="469.23" y="912.83" width="7.54" height="7.54" fill="none" stroke="#FDE725" stroke-width="1.6"/><rect x="486.73" y="918.93" width="7.54" height="7.54" fill="none" stroke="#FDE725" stroke-width="1.6"/><rect x="505.03" y="924.83" width="7.54" height="7.54" fill="none" stroke="#FDE725" stroke-width="1.6"/><rect x="522.93" y="928.93" width="7.54" height="7.54" fill="none" stroke="#FDE725" stroke-width="1.6"/><rect x="541.23" y="932.03" width="7.54" height="7.54" fill="none" stroke="#FDE725" stroke-width="1.6"/><rect x="559.33" y="933.83" width="7.54" height="7.54" fill="none" stroke="#FDE725" stroke-width="1.6"/><rect x="578.23" y="936.63" width="7.54" height="7.54" fill="none" stroke="#FDE725" stroke-width="1.6"/><rect x="596.33" y="942.13" width="7.54" height="7.54" fill="none" stroke="#FDE725" stroke-width="1.6"/><rect x="613.53" y="946.23" width="7.54" height="7.54" fill="none" stroke="#FDE725" stroke-width="1.6"/><rect x="630.63" y="950.63" width="7.54" height="7.54" fill="none" stroke="#FDE725" stroke-width="1.6"/><rect x="648.03" y="956.43" width="7.54" height="7.54" fill="none" stroke="#FDE725" stroke-width="1.6"/><rect x="666.23" y="962.53" width="7.54" height="7.54" fill="none" stroke="#FDE725" stroke-width="1.6"/><rect x="682.63" y="966.33" width="7.54" height="7.54" fill="none" stroke="#FDE725" stroke-width="1.6"/><rect x="698.83" y="969.63" width="7.54" height="7.54" fill="none" stroke="#FDE725" stroke-width="1.6"/></g>
</g>
<path id="smooth" d="M157.3 748.9C159.92 747.25 167.65 742.28 173 739C178.35 735.72 183.98 732.25 189.4 729.2C194.82 726.15 200.02 723.45 205.5 720.7C210.98 717.95 216.8 715.12 222.3 712.7C227.8 710.28 233 708.27 238.5 706.2C244 704.13 249.8 702.03 255.3 700.3C260.8 698.57 266.02 697.17 271.5 695.8C276.98 694.43 282.7 693.17 288.2 692.1C293.7 691.03 299.02 690.22 304.5 689.4C309.98 688.58 315.6 687.73 321.1 687.2C326.6 686.67 332 686.4 337.5 686.2C343 686 348.6 685.9 354.1 686C359.6 686.1 365.02 686.42 370.5 686.8C375.98 687.18 381.1 687.57 387 688.3C392.9 689.03 400.42 690.15 405.9 691.2C411.38 692.25 414.22 693.08 419.9 694.6C425.58 696.12 434.1 698.47 440 700.3C445.9 702.13 448.63 703.05 455.3 705.6C461.97 708.15 471.77 711.98 480 715.6C488.23 719.22 497.7 723.82 504.7 727.3C511.7 730.78 516.12 733.2 522 736.5C527.88 739.8 534.8 744.12 540 747.1C545.2 750.08 548.8 751.77 553.2 754.4C557.6 757.03 562.02 759.83 566.4 762.9C570.78 765.97 575.12 769.28 579.5 772.8C583.88 776.32 588.3 779.93 592.7 784C597.1 788.07 601.5 792.7 605.9 797.2C610.3 801.7 614.72 806.5 619.1 811C623.48 815.5 627.82 819.8 632.2 824.2C636.58 828.6 641 833.12 645.4 837.4C649.8 841.68 654.2 846.05 658.6 849.9C663 853.75 667.42 856.98 671.8 860.5C676.18 864.02 680.52 867.42 684.9 871C689.28 874.58 693.38 878.08 698.1 882C702.82 885.92 708.48 890.5 713.2 894.5C717.92 898.5 722.02 902.22 726.4 906C730.78 909.78 735.12 913.53 739.5 917.2C743.88 920.87 748.3 924.48 752.7 928C757.1 931.52 761.5 935.02 765.9 938.3C770.3 941.58 774.72 944.7 779.1 947.7C783.48 950.7 787.82 953.43 792.2 956.3C796.58 959.17 801 962.15 805.4 964.9C809.8 967.65 814.2 970.22 818.6 972.8C823 975.38 827.42 977.88 831.8 980.4C836.18 982.92 840.52 985.43 844.9 987.9C849.28 990.37 853.7 992.88 858.1 995.2C862.5 997.52 866.9 999.62 871.3 1001.8C875.7 1003.98 880.12 1006.33 884.5 1008.3C888.88 1010.27 893.22 1012.05 897.6 1013.6C901.98 1015.15 906.4 1016.5 910.8 1017.6C915.2 1018.7 918.62 1019.18 924 1020.2C929.38 1021.22 934.67 1022.42 943.1 1023.7C951.53 1024.98 965.83 1026.9 974.6 1027.9C983.37 1028.9 988.68 1029.05 995.7 1029.7C1002.72 1030.35 1007.95 1030.7 1016.7 1031.8C1025.45 1032.9 1037.68 1034.77 1048.2 1036.3C1058.72 1037.83 1067.4 1038.9 1079.8 1041C1092.2 1043.1 1106.7 1045.87 1122.6 1048.9C1138.5 1051.93 1157.68 1055.97 1175.2 1059.2C1192.72 1062.43 1212.73 1065.68 1227.7 1068.3C1242.67 1070.92 1252.62 1072.93 1265 1074.9C1277.38 1076.87 1288.82 1078.45 1302 1080.1C1315.18 1081.75 1330.07 1083.58 1344.1 1084.8C1358.13 1086.02 1372.18 1086.52 1386.2 1087.4C1400.22 1088.28 1415.93 1089.38 1428.2 1090.1C1440.47 1090.82 1440.4 1090.88 1459.8 1091.7C1479.2 1092.52 1512.93 1093.87 1544.6 1095C1576.27 1096.13 1618.9 1097.73 1649.8 1098.5C1680.7 1099.27 1703.58 1099.35 1730 1099.6C1756.42 1099.85 1795.25 1099.93 1808.3 1100" fill="none" stroke="#000000" stroke-width="4.7" stroke-linecap="butt" stroke-linejoin="round"/>
<text class="ttl" transform="translate(327.6 197) scale(1 1.02)" text-anchor="middle" style="font-size:24.3px">R= −0.688 ( −0.724 ~ −0.649 )</text>
<text class="ttl" transform="translate(327.2 242.3) scale(1 1.02)" text-anchor="middle" style="font-size:24.15px">P &lt; 0.001</text>
<path d="M584.3 1147.8V1153.8M1097.85 1147.8V1153.8M1611.4 1147.8V1153.8M68.2 1103.4H74.2M68.2 831.93H74.2M68.2 560.46H74.2M68.2 288.99H74.2" stroke="#333333" stroke-width="2.4" fill="none"/>
<text class="tick"  transform="translate(584.3 1173.4) scale(1 1.06)" text-anchor="middle">0.4</text>
<text class="tick"  transform="translate(1097.85 1173.4) scale(1 1.06)" text-anchor="middle">0.6</text>
<text class="tick"  transform="translate(1611.4 1173.4) scale(1 1.06)" text-anchor="middle">0.8</text>
<text class="tick" transform="translate(63.4 1111) scale(1 1.07)" text-anchor="end">0</text>
<text class="tick" transform="translate(63.4 839.53) scale(1 1.07)" text-anchor="end">10</text>
<text class="tick" transform="translate(63.4 568.06) scale(1 1.07)" text-anchor="end">20</text>
<text class="tick" transform="translate(63.4 296.59) scale(1 1.07)" text-anchor="end">30</text>
<text class="ttl" transform="translate(982.85 1201) scale(1 1.02)" text-anchor="middle">Socio−Demographic Index</text>
<text class="ttl" transform="translate(30.1 645.3) rotate(-90) scale(1 1.02)" text-anchor="middle">DALY rates per 100,000 population</text>
<g id="legend">
<text class="ttl" transform="translate(249 67.8) scale(1 1.02)" style="font-size:23.8px">location</text>
<rect x="343.2" y="12.95" width="10.8" height="93.25" fill="#F6F6F6"/>
<rect x="572.2" y="12.95" width="10.8" height="93.25" fill="#F6F6F6"/>
<rect x="853.1" y="12.95" width="10.8" height="93.25" fill="#F6F6F6"/>
<rect x="1139.6" y="12.95" width="10.8" height="93.25" fill="#F6F6F6"/>
<rect x="1437.6" y="12.95" width="10.8" height="37.3" fill="#F6F6F6"/>
<g stroke-linecap="round" stroke-linejoin="round">
<circle cx="348.6" cy="22.35" r="4.26" fill="none" stroke="#440154" stroke-width="1.6"/>
<path d="M348.6 34.38L354.33 44.31L342.87 44.31Z" fill="none" stroke="#471365" stroke-width="1.6"/>
<path d="M342.58 59.65L354.62 59.65M348.6 53.63L348.6 65.67" fill="none" stroke="#482374" stroke-width="1.6"/>
<path d="M344.34 74.04L352.86 82.56M344.34 82.56L352.86 74.04" fill="none" stroke="#46327E" stroke-width="1.6"/>
<path d="M342.58 96.95L348.6 90.93L354.62 96.95L348.6 102.97Z" fill="none" stroke="#424086" stroke-width="1.6"/>
<path d="M577.6 28.97L583.33 19.04L571.87 19.04Z" fill="none" stroke="#3D4E8A" stroke-width="1.6"/>
<path d="M573.34 36.74L581.86 36.74L581.86 45.26L573.34 45.26ZM573.34 36.74L581.86 45.26M573.34 45.26L581.86 36.74" fill="none" stroke="#365C8D" stroke-width="1.6"/>
<path d="M573.34 55.39L581.86 63.91M573.34 63.91L581.86 55.39M571.58 59.65L583.62 59.65M577.6 53.63L577.6 65.67" fill="none" stroke="#31688E" stroke-width="1.6"/>
<path d="M571.58 78.3L577.6 72.28L583.62 78.3L577.6 84.32ZM571.58 78.3L583.62 78.3M577.6 72.28L577.6 84.32" fill="none" stroke="#2C738E" stroke-width="1.6"/>
<circle cx="577.6" cy="96.95" r="4.26" fill="none" stroke="#277F8E" stroke-width="1.6"/><path d="M573.34 96.95L581.86 96.95M577.6 92.69L577.6 101.21" fill="none" stroke="#277F8E" stroke-width="1.6"/>
<path d="M858.5 15.73L864.23 27.31L852.77 27.31ZM858.5 28.97L864.23 17.39L852.77 17.39Z" fill="none" stroke="#238A8D" stroke-width="1.6"/>
<path d="M854.24 36.74L862.76 36.74L862.76 45.26L854.24 45.26ZM854.24 41L862.76 41M858.5 36.74L858.5 45.26" fill="none" stroke="#1F968B" stroke-width="1.6"/>
<circle cx="858.5" cy="59.65" r="4.26" fill="none" stroke="#1FA187" stroke-width="1.6"/><path d="M854.24 55.39L862.76 63.91M854.24 63.91L862.76 55.39" fill="none" stroke="#1FA187" stroke-width="1.6"/>
<path d="M854.24 74.04L862.76 74.04L862.76 82.56L854.24 82.56ZM858.5 74.04L862.76 82.56L854.24 82.56Z" fill="none" stroke="#26AD81" stroke-width="1.6"/>
<rect x="854.24" y="92.69" width="8.51" height="8.51" fill="#35B779"/>
<circle cx="1145" cy="22.35" r="4.26" fill="#4AC16D"/>
<path d="M1145 34.38L1150.73 44.31L1139.27 44.31Z" fill="#65CB5E"/>
<path d="M1140.74 59.65L1145 55.39L1149.26 59.65L1145 63.91Z" fill="#81D34D"/>
<circle cx="1145" cy="78.3" r="4.26" fill="#A0DA39" stroke="#A0DA39" stroke-width="1.6"/>
<circle cx="1145" cy="96.95" r="2.84" fill="#C0DF25" stroke="#C0DF25" stroke-width="1.6"/>
<circle cx="1443" cy="22.35" r="4.26" fill="none" stroke="#DFE318" stroke-width="1.6"/>
<rect x="1439.23" y="37.23" width="7.54" height="7.54" fill="none" stroke="#FDE725" stroke-width="1.6"/>
</g>
<text class="lab" x="365.5" y="28.9">Global</text>
<text class="lab" x="365.5" y="47.55">Andean Latin America</text>
<text class="lab" x="365.5" y="66.2">Australasia</text>
<text class="lab" x="365.5" y="84.85">Caribbean</text>
<text class="lab" x="365.5" y="103.5">Central Asia</text>
<text class="lab" x="594.5" y="28.9">Central Europe</text>
<text class="lab" x="594.5" y="47.55">Central Latin America</text>
<text class="lab" x="594.5" y="66.2">Central Sub−Saharan Africa</text>
<text class="lab" x="594.5" y="84.85">East Asia</text>
<text class="lab" x="594.5" y="103.5">Eastern Europe</text>
<text class="lab" x="875.4" y="28.9">Eastern Sub−Saharan Africa</text>
<text class="lab" x="875.4" y="47.55">High−income Asia Pacific</text>
<text class="lab" x="875.4" y="66.2">High−income North America</text>
<text class="lab" x="875.4" y="84.85">North Africa and Middle East</text>
<text class="lab" x="875.4" y="103.5">Oceania</text>
<text class="lab" x="1161.9" y="28.9">South Asia</text>
<text class="lab" x="1161.9" y="47.55">Southeast Asia</text>
<text class="lab" x="1161.9" y="66.2">Southern Latin America</text>
<text class="lab" x="1161.9" y="84.85">Southern Sub−Saharan Africa</text>
<text class="lab" x="1161.9" y="103.5">Tropical Latin America</text>
<text class="lab" x="1459.9" y="28.9">Western Europe</text>
<text class="lab" x="1459.9" y="47.55">Western Sub−Saharan Africa</text>
</g>
</svg>
</body>
</html>
